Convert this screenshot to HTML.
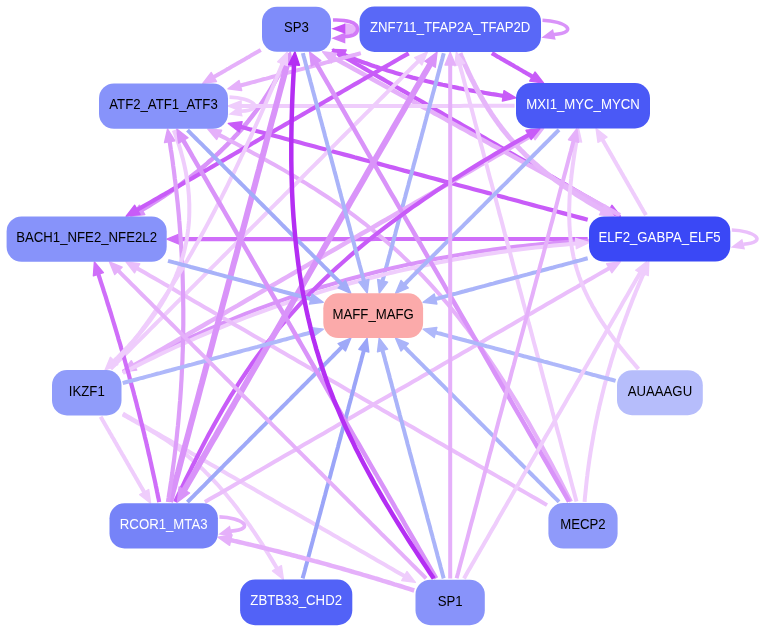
<!DOCTYPE html>
<html><head><meta charset="utf-8"><style>
html,body{margin:0;padding:0;background:#fff;width:761px;height:632px;overflow:hidden}
svg{display:block}
.lbl{will-change:transform}
text{font-family:"Liberation Sans",sans-serif;font-size:13.2px}
</style></head><body>
<svg width="761" height="632" viewBox="0 0 761 632">
<rect width="761" height="632" fill="#fff"/>
<g><path d="M343.3,54.5 L345.6,55.4 L347.8,56.4 L350.1,57.3 L352.4,58.2 L354.8,59.2 L357.1,60.1 L359.5,61.0 L362.0,61.9 L364.4,62.8 L366.9,63.6 L369.4,64.5 L371.9,65.4 L374.4,66.3 L377.0,67.1 L379.6,68.0 L382.2,68.8 L384.8,69.6 L387.5,70.5 L390.2,71.3 L392.9,72.1 L395.6,72.9 L398.4,73.7 L401.1,74.5 L403.9,75.3 L406.8,76.0 L409.6,76.8 L412.5,77.6 L415.4,78.3 L418.3,79.1 L421.3,79.8 L424.3,80.5 L427.3,81.3 L430.3,82.0 L433.4,82.7 L436.4,83.4 L439.5,84.1 L442.7,84.8 L445.8,85.4 L449.0,86.1 L452.2,86.8 L455.4,87.4 L458.6,88.1 L461.9,88.7 L465.2,89.4 L468.5,90.0 L471.9,90.6 L475.2,91.2 L478.6,91.8 L482.0,92.4 L485.5,93.0 L489.0,93.6 L492.4,94.2 L496.0,94.7 L499.5,95.3 L503.1,95.9 L504.2,96.0" fill="none" stroke="#c85cf8" stroke-width="4.2"/><path d="M515.9,97.8L502.4,101.1L504.0,90.7Z" fill="#c85cf8" stroke="#c85cf8" stroke-width="1.4" stroke-linejoin="round"/><path d="M332.3,49.5L346.2,50.0L341.9,59.6Z" fill="#c85cf8" stroke="#c85cf8" stroke-width="1.4" stroke-linejoin="round"/></g>
<g><path d="M332.4,50.0 L336.0,52.1 L339.6,54.2 L343.3,56.3 L346.9,58.4 L350.5,60.5 L354.2,62.6 L357.8,64.7 L361.4,66.8 L365.0,68.9 L368.7,71.0 L372.3,73.1 L375.9,75.2 L379.6,77.3 L383.2,79.4 L386.8,81.5 L390.5,83.6 L394.1,85.7 L397.7,87.8 L401.4,89.9 L405.0,91.9 L408.6,94.0 L412.3,96.1 L415.9,98.2 L419.5,100.3 L423.1,102.4 L426.8,104.5 L430.4,106.6 L434.0,108.7 L437.7,110.8 L441.3,112.9 L444.9,115.0 L448.6,117.1 L452.2,119.2 L455.8,121.3 L459.5,123.4 L463.1,125.5 L466.7,127.6 L470.4,129.7 L474.0,131.8 L477.6,133.9 L481.3,136.0 L484.9,138.1 L488.5,140.2 L492.1,142.3 L495.8,144.4 L499.4,146.5 L503.0,148.6 L506.7,150.7 L510.3,152.8 L513.9,154.9 L517.6,157.0 L521.2,159.1 L524.8,161.1 L528.5,163.2 L532.1,165.3 L535.7,167.4 L539.4,169.5 L543.0,171.6 L546.6,173.7 L550.3,175.8 L553.9,177.9 L557.5,180.0 L561.1,182.1 L564.8,184.2 L568.4,186.3 L572.0,188.4 L575.7,190.5 L579.3,192.6 L582.9,194.7 L586.6,196.8 L590.2,198.9 L593.8,201.0 L597.5,203.1 L601.1,205.2 L604.7,207.3 L608.4,209.4 L609.9,210.3" fill="none" stroke="#c85cf8" stroke-width="4.2"/><path d="M620.4,216.3L606.6,214.4L611.9,205.3Z" fill="#c85cf8" stroke="#c85cf8" stroke-width="1.4" stroke-linejoin="round"/></g>
<g><path d="M288.4,53.1 L287.4,55.6 L286.4,58.1 L285.3,60.5 L284.2,63.0 L283.1,65.4 L282.0,67.8 L280.8,70.3 L279.6,72.7 L278.4,75.1 L277.2,77.5 L275.9,79.9 L274.6,82.2 L273.3,84.6 L271.9,86.9 L270.5,89.3 L269.1,91.6 L267.7,93.9 L266.2,96.3 L264.7,98.6 L263.2,100.9 L261.6,103.2 L260.1,105.4 L258.5,107.7 L256.8,110.0 L255.2,112.2 L253.5,114.4 L251.8,116.7 L250.0,118.9 L248.3,121.1 L246.5,123.3 L244.7,125.5 L242.8,127.7 L240.9,129.9 L239.0,132.0 L237.1,134.2 L235.1,136.3 L233.1,138.5 L231.1,140.6 L229.1,142.7 L227.0,144.8 L224.9,146.9 L222.8,149.0 L220.6,151.1 L218.5,153.2 L216.3,155.2 L214.0,157.3 L211.8,159.3 L209.5,161.3 L207.2,163.4 L204.8,165.4 L202.4,167.4 L200.0,169.4 L197.6,171.4 L195.2,173.3 L192.7,175.3 L190.2,177.3 L187.6,179.2 L185.1,181.1 L182.5,183.1 L179.9,185.0 L177.2,186.9 L174.6,188.8 L171.9,190.7 L169.1,192.6 L166.4,194.5 L163.6,196.3 L160.8,198.2 L157.9,200.0 L155.1,201.8 L152.2,203.7 L149.3,205.5 L146.3,207.3 L143.3,209.1 L141.3,210.3" fill="none" stroke="#d993f9" stroke-width="4.5"/><path d="M130.8,216.4L139.4,205.2L144.8,214.5Z" fill="#d993f9" stroke="#d993f9" stroke-width="1.4" stroke-linejoin="round"/></g>
<g><path d="M260.8,49.9 L259.4,50.7 L258.1,51.5 L256.8,52.2 L255.4,53.0 L254.1,53.8 L252.8,54.5 L251.4,55.3 L250.1,56.1 L248.8,56.9 L247.5,57.6 L246.1,58.4 L244.8,59.2 L243.5,59.9 L242.1,60.7 L240.8,61.5 L239.5,62.2 L238.1,63.0 L236.8,63.8 L235.5,64.5 L234.2,65.3 L232.8,66.1 L231.5,66.8 L230.2,67.6 L228.8,68.4 L227.5,69.1 L226.2,69.9 L224.8,70.7 L223.5,71.4 L222.2,72.2 L220.9,73.0 L219.5,73.7 L218.2,74.5 L216.9,75.3 L215.5,76.1 L214.2,76.8 L213.0,77.5" fill="none" stroke="#e5b0fa" stroke-width="4"/><path d="M202.8,83.4L211.3,72.5L216.5,81.5Z" fill="#e5b0fa" stroke="#e5b0fa" stroke-width="1.4" stroke-linejoin="round"/></g>
<g><path d="M587.7,219.7 L582.7,218.4 L577.8,217.1 L572.8,215.7 L567.9,214.4 L562.9,213.1 L557.9,211.8 L553.0,210.4 L548.0,209.1 L543.1,207.8 L538.1,206.4 L533.1,205.1 L528.2,203.8 L523.2,202.5 L518.2,201.1 L513.3,199.8 L508.3,198.5 L503.4,197.1 L498.4,195.8 L493.4,194.5 L488.5,193.1 L483.5,191.8 L478.6,190.5 L473.6,189.2 L468.6,187.8 L463.7,186.5 L458.7,185.2 L453.7,183.8 L448.8,182.5 L443.8,181.2 L438.9,179.9 L433.9,178.5 L428.9,177.2 L424.0,175.9 L419.0,174.5 L414.1,173.2 L409.1,171.9 L404.1,170.6 L399.2,169.2 L394.2,167.9 L389.2,166.6 L384.3,165.2 L379.3,163.9 L374.4,162.6 L369.4,161.3 L364.4,159.9 L359.5,158.6 L354.5,157.3 L349.6,155.9 L344.6,154.6 L339.6,153.3 L334.7,152.0 L329.7,150.6 L324.7,149.3 L319.8,148.0 L314.8,146.6 L309.9,145.3 L304.9,144.0 L299.9,142.6 L295.0,141.3 L290.0,140.0 L285.1,138.7 L280.1,137.3 L275.1,136.0 L270.2,134.7 L265.2,133.3 L260.2,132.0 L255.3,130.7 L250.3,129.4 L245.4,128.0 L240.4,126.7 L240.1,126.6" fill="none" stroke="#c85cf8" stroke-width="4.2"/><path d="M228.3,123.5L242.1,121.7L239.4,131.9Z" fill="#c85cf8" stroke="#c85cf8" stroke-width="1.4" stroke-linejoin="round"/></g>
<g><path d="M587.7,239.0 L581.9,239.0 L576.2,239.0 L570.5,239.0 L564.7,239.0 L559.0,239.0 L553.3,239.0 L547.6,239.0 L541.8,239.0 L536.1,239.0 L530.4,239.0 L524.6,239.0 L518.9,239.0 L513.2,239.0 L507.4,239.0 L501.7,239.0 L496.0,239.0 L490.3,239.0 L484.5,239.0 L478.8,239.0 L473.1,239.0 L467.3,239.0 L461.6,239.0 L455.9,239.0 L450.1,239.0 L444.4,239.0 L438.7,239.0 L433.0,239.0 L427.2,239.0 L421.5,239.0 L415.8,239.0 L410.0,239.0 L404.3,239.0 L398.6,239.0 L392.8,239.0 L387.1,239.0 L381.4,239.0 L375.7,239.0 L369.9,239.1 L364.2,239.1 L358.5,239.1 L352.7,239.1 L347.0,239.1 L341.3,239.1 L335.5,239.1 L329.8,239.1 L324.1,239.1 L318.4,239.1 L312.6,239.1 L306.9,239.1 L301.2,239.1 L295.4,239.1 L289.7,239.1 L284.0,239.1 L278.2,239.1 L272.5,239.1 L266.8,239.1 L261.1,239.1 L255.3,239.1 L249.6,239.1 L243.9,239.1 L238.1,239.1 L232.4,239.1 L226.7,239.1 L220.9,239.1 L215.2,239.1 L209.5,239.1 L203.8,239.1 L198.0,239.1 L192.3,239.1 L186.6,239.1 L180.8,239.1 L179.0,239.1" fill="none" stroke="#cf6ef9" stroke-width="4.2"/><path d="M166.9,239.1L179.8,233.8L179.8,244.4Z" fill="#cf6ef9" stroke="#cf6ef9" stroke-width="1.4" stroke-linejoin="round"/></g>
<g><path d="M619.9,215.2 L616.3,213.2 L612.7,211.2 L609.0,209.2 L605.4,207.2 L601.8,205.2 L598.1,203.2 L594.5,201.2 L590.9,199.2 L587.2,197.2 L583.6,195.2 L580.0,193.2 L576.4,191.2 L572.7,189.2 L569.1,187.2 L565.5,185.3 L561.8,183.3 L558.2,181.3 L554.6,179.3 L550.9,177.3 L547.3,175.3 L543.7,173.3 L540.0,171.3 L536.4,169.3 L532.8,167.3 L529.1,165.3 L525.5,163.3 L521.9,161.3 L518.2,159.3 L514.6,157.3 L511.0,155.3 L507.4,153.3 L503.7,151.3 L500.1,149.3 L496.5,147.3 L492.8,145.4 L489.2,143.4 L485.6,141.4 L481.9,139.4 L478.3,137.4 L474.7,135.4 L471.0,133.4 L467.4,131.4 L463.8,129.4 L460.1,127.4 L456.5,125.4 L452.9,123.4 L449.2,121.4 L445.6,119.4 L442.0,117.4 L438.4,115.4 L434.7,113.4 L431.1,111.4 L427.5,109.4 L423.8,107.4 L420.2,105.5 L416.6,103.5 L412.9,101.5 L409.3,99.5 L405.7,97.5 L402.0,95.5 L398.4,93.5 L394.8,91.5 L391.1,89.5 L387.5,87.5 L383.9,85.5 L380.3,83.5 L376.6,81.5 L373.0,79.5 L369.4,77.5 L365.7,75.5 L362.1,73.5 L358.5,71.5 L354.8,69.5 L351.2,67.5 L347.6,65.6 L343.9,63.6 L340.3,61.6 L336.7,59.6 L333.3,57.7" fill="none" stroke="#e5b0fa" stroke-width="4.5"/><path d="M322.6,51.8L336.6,53.4L331.4,62.9Z" fill="#e5b0fa" stroke="#e5b0fa" stroke-width="1.4" stroke-linejoin="round"/></g>
<g><path d="M645.9,215.2 L645.2,213.8 L644.4,212.5 L643.6,211.2 L642.9,209.9 L642.1,208.5 L641.3,207.2 L640.6,205.9 L639.8,204.5 L639.1,203.2 L638.3,201.9 L637.5,200.5 L636.8,199.2 L636.0,197.9 L635.2,196.5 L634.5,195.2 L633.7,193.9 L632.9,192.5 L632.2,191.2 L631.4,189.9 L630.6,188.5 L629.9,187.2 L629.1,185.9 L628.3,184.5 L627.6,183.2 L626.8,181.9 L626.0,180.5 L625.3,179.2 L624.5,177.9 L623.7,176.5 L623.0,175.2 L622.2,173.9 L621.4,172.5 L620.7,171.2 L619.9,169.9 L619.1,168.5 L618.4,167.2 L617.6,165.9 L616.8,164.5 L616.1,163.2 L615.3,161.9 L614.5,160.5 L613.8,159.2 L613.0,157.9 L612.2,156.6 L611.5,155.2 L610.7,153.9 L609.9,152.6 L609.2,151.2 L608.4,149.9 L607.6,148.6 L606.9,147.2 L606.1,145.9 L605.3,144.6 L604.6,143.2 L603.8,141.9 L603.0,140.6 L602.3,139.2 L602.0,138.8" fill="none" stroke="#efcdfc" stroke-width="4"/><path d="M596.1,128.6L607.0,137.1L598.0,142.3Z" fill="#efcdfc" stroke="#efcdfc" stroke-width="1.4" stroke-linejoin="round"/></g>
<g><path d="M571.0,501.6 L567.0,493.8 L563.1,486.1 L559.2,478.5 L555.3,471.1 L551.4,463.8 L547.6,456.6 L543.8,449.6 L540.0,442.7 L536.2,435.9 L532.4,429.2 L528.7,422.6 L524.9,416.2 L521.2,409.9 L517.5,403.6 L513.8,397.5 L510.1,391.5 L506.4,385.6 L502.7,379.9 L499.0,374.2 L495.4,368.6 L491.7,363.1 L488.1,357.7 L484.4,352.4 L480.8,347.3 L477.2,342.2 L473.5,337.1 L469.9,332.2 L466.3,327.4 L462.6,322.7 L459.0,318.0 L455.4,313.4 L451.7,308.9 L448.1,304.5 L444.4,300.2 L440.8,295.9 L437.1,291.7 L433.4,287.6 L429.8,283.6 L426.1,279.6 L422.4,275.7 L418.6,271.8 L414.9,268.1 L411.2,264.3 L407.4,260.7 L403.6,257.1 L399.9,253.5 L396.1,250.0 L392.2,246.6 L388.4,243.2 L384.5,239.9 L380.6,236.6 L376.7,233.3 L372.8,230.1 L368.8,227.0 L364.9,223.8 L360.9,220.8 L356.8,217.7 L352.8,214.7 L348.7,211.7 L344.6,208.8 L340.4,205.9 L336.3,203.0 L332.1,200.1 L327.8,197.3 L323.5,194.5 L319.2,191.7 L314.9,188.9 L310.5,186.2 L306.1,183.4 L301.6,180.7 L297.1,178.0 L292.6,175.3 L288.0,172.6 L283.4,169.9 L278.8,167.3 L274.0,164.6 L269.3,161.9 L264.5,159.2 L259.7,156.6 L254.8,153.9 L249.8,151.2 L244.8,148.5 L239.8,145.8 L234.7,143.1 L229.6,140.4 L224.4,137.6 L219.1,134.9 L218.5,134.5" fill="none" stroke="#e5b0fa" stroke-width="4"/><path d="M207.8,129.0L221.6,130.3L216.7,139.5Z" fill="#e5b0fa" stroke="#e5b0fa" stroke-width="1.4" stroke-linejoin="round"/></g>
<g><path d="M514.6,105.8 L510.4,105.8 L506.2,105.8 L502.0,105.8 L497.8,105.8 L493.6,105.8 L489.4,105.8 L485.2,105.8 L481.0,105.8 L476.8,105.8 L472.6,105.8 L468.4,105.8 L464.2,105.8 L460.0,105.9 L455.8,105.9 L451.6,105.9 L447.4,105.9 L443.3,105.9 L439.1,105.9 L434.9,105.9 L430.7,105.9 L426.5,105.9 L422.3,105.9 L418.1,105.9 L413.9,105.9 L409.7,105.9 L405.5,105.9 L401.3,105.9 L397.1,105.9 L392.9,105.9 L388.7,105.9 L384.5,105.9 L380.3,105.9 L376.1,105.9 L371.9,105.9 L367.7,105.9 L363.5,105.9 L359.4,105.9 L355.2,105.9 L351.0,105.9 L346.8,105.9 L342.6,106.0 L338.4,106.0 L334.2,106.0 L330.0,106.0 L325.8,106.0 L321.6,106.0 L317.4,106.0 L313.2,106.0 L309.0,106.0 L304.8,106.0 L300.6,106.0 L296.4,106.0 L292.2,106.0 L288.0,106.0 L283.8,106.0 L279.6,106.0 L275.5,106.0 L271.3,106.0 L267.1,106.0 L262.9,106.0 L258.7,106.0 L254.5,106.0 L250.3,106.0 L246.1,106.0 L241.9,106.0 L240.3,106.0" fill="none" stroke="#efcdfc" stroke-width="4"/><path d="M228.3,106.0L241.1,100.8L241.1,111.2Z" fill="#efcdfc" stroke="#efcdfc" stroke-width="1.4" stroke-linejoin="round"/></g>
<g><path d="M443.8,53.2 L443.0,56.1 L442.3,59.0 L441.5,61.8 L440.7,64.7 L439.9,67.6 L439.2,70.4 L438.4,73.3 L437.6,76.2 L436.9,79.0 L436.1,81.9 L435.3,84.7 L434.6,87.6 L433.8,90.5 L433.0,93.3 L432.2,96.2 L431.5,99.1 L430.7,101.9 L429.9,104.8 L429.2,107.7 L428.4,110.5 L427.6,113.4 L426.8,116.3 L426.1,119.1 L425.3,122.0 L424.5,124.9 L423.8,127.7 L423.0,130.6 L422.2,133.4 L421.5,136.3 L420.7,139.2 L419.9,142.0 L419.1,144.9 L418.4,147.8 L417.6,150.6 L416.8,153.5 L416.1,156.4 L415.3,159.2 L414.5,162.1 L413.7,165.0 L413.0,167.8 L412.2,170.7 L411.4,173.5 L410.7,176.4 L409.9,179.3 L409.1,182.1 L408.4,185.0 L407.6,187.9 L406.8,190.7 L406.0,193.6 L405.3,196.5 L404.5,199.3 L403.7,202.2 L403.0,205.1 L402.2,207.9 L401.4,210.8 L400.6,213.7 L399.9,216.5 L399.1,219.4 L398.3,222.2 L397.6,225.1 L396.8,228.0 L396.0,230.8 L395.3,233.7 L394.5,236.6 L393.7,239.4 L392.9,242.3 L392.2,245.2 L391.4,248.0 L390.6,250.9 L389.9,253.8 L389.1,256.6 L388.3,259.5 L387.6,262.3 L386.8,265.2 L386.0,268.1 L385.2,270.9 L384.5,273.8 L383.7,276.7 L382.9,279.5 L382.3,281.7" fill="none" stroke="#aab4f9" stroke-width="4"/><path d="M379.3,293.1L377.6,279.4L387.6,282.1Z" fill="#aab4f9" stroke="#aab4f9" stroke-width="1.4" stroke-linejoin="round"/></g>
<g><path d="M122.9,371.8 L128.1,368.9 L133.4,366.1 L138.6,363.3 L143.9,360.5 L149.1,357.7 L154.4,355.0 L159.7,352.4 L165.0,349.7 L170.3,347.1 L175.6,344.5 L181.0,341.9 L186.3,339.4 L191.7,336.9 L197.0,334.5 L202.4,332.0 L207.8,329.6 L213.2,327.3 L218.7,324.9 L224.1,322.6 L229.5,320.3 L235.0,318.1 L240.5,315.9 L245.9,313.7 L251.4,311.6 L256.9,309.4 L262.5,307.4 L268.0,305.3 L273.5,303.3 L279.1,301.3 L284.6,299.3 L290.2,297.4 L295.8,295.5 L301.4,293.6 L307.0,291.8 L312.7,290.0 L318.3,288.2 L323.9,286.5 L329.6,284.8 L335.3,283.1 L341.0,281.4 L346.7,279.8 L352.4,278.2 L358.1,276.7 L363.8,275.2 L369.6,273.7 L375.3,272.2 L381.1,270.8 L386.9,269.4 L392.7,268.0 L398.5,266.7 L404.3,265.4 L410.2,264.1 L416.0,262.9 L421.8,261.7 L427.7,260.5 L433.6,259.3 L439.5,258.2 L445.4,257.2 L451.3,256.1 L457.2,255.1 L463.2,254.1 L469.1,253.1 L475.1,252.2 L481.1,251.3 L487.1,250.4 L493.1,249.6 L499.1,248.8 L505.1,248.0 L511.1,247.3 L517.2,246.6 L523.2,245.9 L529.3,245.3 L535.4,244.7 L541.5,244.1 L547.6,243.5 L553.7,243.0 L559.9,242.5 L566.0,242.1 L572.2,241.7 L578.3,241.3 L584.5,240.9 L588.8,240.7" fill="none" stroke="#d993f9" stroke-width="4"/></g>
<g><path d="M133.3,365.8 L138.2,363.0 L143.2,360.1 L148.2,357.2 L153.1,354.4 L158.1,351.5 L163.0,348.6 L168.0,345.8 L173.0,342.9 L177.9,340.0 L182.9,337.1 L187.9,334.3 L192.8,331.4 L197.8,328.5 L202.7,325.7 L207.7,322.8 L212.7,319.9 L217.6,317.1 L222.6,314.2 L227.6,311.3 L232.5,308.4 L237.5,305.6 L242.4,302.7 L247.4,299.8 L252.4,297.0 L257.3,294.1 L262.3,291.2 L267.3,288.4 L272.2,285.5 L277.2,282.6 L282.1,279.7 L287.1,276.9 L292.1,274.0 L297.0,271.1 L302.0,268.3 L307.0,265.4 L311.9,262.5 L316.9,259.7 L321.8,256.8 L326.8,253.9 L331.8,251.0 L336.7,248.2 L341.7,245.3 L346.7,242.4 L351.6,239.6 L356.6,236.7 L361.5,233.8 L366.5,231.0 L371.5,228.1 L376.4,225.2 L381.4,222.3 L386.4,219.5 L391.3,216.6 L396.3,213.7 L401.2,210.9 L406.2,208.0 L411.2,205.1 L416.1,202.3 L421.1,199.4 L426.1,196.5 L431.0,193.6 L436.0,190.8 L440.9,187.9 L445.9,185.0 L450.9,182.2 L455.8,179.3 L460.8,176.4 L465.8,173.6 L470.7,170.7 L475.7,167.8 L480.6,164.9 L485.6,162.1 L490.6,159.2 L495.5,156.3 L500.5,153.5 L505.5,150.6 L510.4,147.7 L515.4,144.9 L520.3,142.0 L525.3,139.1 L530.3,136.2 L533.1,134.6" fill="none" stroke="#e5b0fa" stroke-width="4.5"/><path d="M543.6,128.5L535.0,139.7L529.6,130.4Z" fill="#e5b0fa" stroke="#e5b0fa" stroke-width="1.4" stroke-linejoin="round"/><path d="M122.7,371.9L131.3,360.7L136.7,370.1Z" fill="#e5b0fa" stroke="#e5b0fa" stroke-width="1.4" stroke-linejoin="round"/></g>
<g><path d="M122.9,373.0 L128.1,370.2 L133.4,367.5 L138.6,364.9 L143.9,362.3 L149.1,359.6 L154.4,357.1 L159.7,354.5 L165.0,352.0 L170.3,349.5 L175.6,347.0 L181.0,344.6 L186.3,342.2 L191.7,339.8 L197.0,337.4 L202.4,335.1 L207.8,332.8 L213.2,330.5 L218.7,328.3 L224.1,326.1 L229.5,323.9 L235.0,321.7 L240.5,319.6 L245.9,317.5 L251.4,315.4 L256.9,313.4 L262.5,311.3 L268.0,309.3 L273.5,307.4 L279.1,305.4 L284.6,303.5 L290.2,301.6 L295.8,299.8 L301.4,297.9 L307.0,296.1 L312.7,294.4 L318.3,292.6 L323.9,290.9 L329.6,289.2 L335.3,287.6 L341.0,285.9 L346.7,284.3 L352.4,282.7 L358.1,281.2 L363.8,279.7 L369.6,278.2 L375.3,276.7 L381.1,275.3 L386.9,273.8 L392.7,272.5 L398.5,271.1 L404.3,269.8 L410.2,268.5 L416.0,267.2 L421.8,266.0 L427.7,264.7 L433.6,263.5 L439.5,262.4 L445.4,261.2 L451.3,260.1 L457.2,259.1 L463.2,258.0 L469.1,257.0 L475.1,256.0 L481.1,255.0 L487.1,254.1 L493.1,253.2 L499.1,252.3 L505.1,251.4 L511.1,250.6 L517.2,249.8 L523.2,249.0 L529.3,248.3 L535.4,247.6 L541.5,246.9 L547.6,246.2 L553.7,245.6 L559.9,245.0 L566.0,244.4 L572.2,243.8 L576.8,243.4" fill="none" stroke="#efcdfc" stroke-width="4"/><path d="M588.8,242.5L576.4,248.7L575.6,238.3Z" fill="#efcdfc" stroke="#efcdfc" stroke-width="1.4" stroke-linejoin="round"/></g>
<g><path d="M110.8,368.7 L114.5,365.0 L118.1,361.4 L121.7,357.8 L125.4,354.1 L129.0,350.5 L132.6,346.9 L136.3,343.2 L139.9,339.6 L143.5,336.0 L147.2,332.3 L150.8,328.7 L154.5,325.0 L158.1,321.4 L161.7,317.8 L165.4,314.1 L169.0,310.5 L172.6,306.9 L176.3,303.2 L179.9,299.6 L183.5,296.0 L187.2,292.3 L190.8,288.7 L194.4,285.1 L198.1,281.4 L201.7,277.8 L205.3,274.2 L209.0,270.5 L212.6,266.9 L216.2,263.3 L219.9,259.6 L223.5,256.0 L227.2,252.3 L230.8,248.7 L234.4,245.1 L238.1,241.4 L241.7,237.8 L245.3,234.2 L249.0,230.5 L252.6,226.9 L256.2,223.3 L259.9,219.6 L263.5,216.0 L267.1,212.4 L270.8,208.7 L274.4,205.1 L278.0,201.5 L281.7,197.8 L285.3,194.2 L288.9,190.6 L292.6,186.9 L296.2,183.3 L299.9,179.6 L303.5,176.0 L307.1,172.4 L310.8,168.7 L314.4,165.1 L318.0,161.5 L321.7,157.8 L325.3,154.2 L328.9,150.6 L332.6,146.9 L336.2,143.3 L339.8,139.7 L343.5,136.0 L347.1,132.4 L350.7,128.8 L354.4,125.1 L358.0,121.5 L361.6,117.9 L365.3,114.2 L368.9,110.6 L372.6,106.9 L376.2,103.3 L379.8,99.7 L383.5,96.0 L387.1,92.4 L390.7,88.8 L394.4,85.1 L398.0,81.5 L401.6,77.9 L405.3,74.2 L408.9,70.6 L412.5,67.0 L416.2,63.3 L418.9,60.6" fill="none" stroke="#efcdfc" stroke-width="4"/><path d="M427.3,52.2L421.9,64.9L414.6,57.6Z" fill="#efcdfc" stroke="#efcdfc" stroke-width="1.4" stroke-linejoin="round"/></g>
<g><path d="M100.6,416.7 L101.4,418.0 L102.1,419.4 L102.9,420.7 L103.7,422.0 L104.4,423.4 L105.2,424.7 L106.0,426.0 L106.8,427.4 L107.5,428.7 L108.3,430.0 L109.1,431.3 L109.8,432.7 L110.6,434.0 L111.4,435.3 L112.1,436.7 L112.9,438.0 L113.7,439.3 L114.5,440.7 L115.2,442.0 L116.0,443.3 L116.8,444.7 L117.5,446.0 L118.3,447.3 L119.1,448.7 L119.8,450.0 L120.6,451.3 L121.4,452.6 L122.1,454.0 L122.9,455.3 L123.7,456.6 L124.5,458.0 L125.2,459.3 L126.0,460.6 L126.8,462.0 L127.5,463.3 L128.3,464.6 L129.1,466.0 L129.8,467.3 L130.6,468.6 L131.4,469.9 L132.2,471.3 L132.9,472.6 L133.7,473.9 L134.5,475.3 L135.2,476.6 L136.0,477.9 L136.8,479.3 L137.5,480.6 L138.3,481.9 L139.1,483.3 L139.8,484.6 L140.6,485.9 L141.4,487.3 L142.2,488.6 L142.9,489.9 L143.7,491.2 L144.5,492.6 L144.7,493.0" fill="none" stroke="#efcdfc" stroke-width="4"/><path d="M150.6,503.2L139.7,494.7L148.7,489.5Z" fill="#efcdfc" stroke="#efcdfc" stroke-width="1.4" stroke-linejoin="round"/></g>
<g><path d="M122.8,414.6 L124.8,415.7 L126.8,416.8 L128.8,418.0 L130.8,419.1 L132.7,420.2 L134.7,421.3 L136.7,422.4 L138.6,423.5 L140.5,424.6 L142.5,425.7 L144.4,426.8 L146.3,427.9 L148.3,429.1 L150.2,430.2 L152.1,431.3 L154.0,432.5 L155.9,433.6 L157.8,434.8 L159.7,436.0 L161.6,437.2 L163.5,438.4 L165.4,439.7 L167.3,440.9 L169.2,442.2 L171.1,443.5 L173.0,444.9 L174.9,446.2 L176.8,447.6 L178.7,449.0 L180.6,450.4 L182.5,451.9 L184.4,453.4 L186.4,454.9 L188.3,456.5 L190.2,458.1 L192.1,459.7 L194.1,461.4 L196.0,463.1 L198.0,464.9 L199.9,466.7 L201.9,468.5 L203.9,470.4 L205.8,472.4 L207.8,474.3 L209.8,476.4 L211.8,478.5 L213.8,480.6 L215.9,482.8 L217.9,485.0 L219.9,487.3 L222.0,489.7 L224.1,492.1 L226.2,494.5 L228.2,497.1 L230.4,499.7 L232.5,502.3 L234.6,505.0 L236.8,507.8 L238.9,510.7 L241.1,513.6 L243.3,516.6 L245.5,519.6 L247.7,522.8 L250.0,526.0 L252.2,529.3 L254.5,532.6 L256.8,536.1 L259.1,539.6 L261.5,543.2 L263.8,546.8 L266.2,550.6 L268.6,554.5 L271.0,558.4 L273.4,562.4 L275.9,566.5 L277.4,569.1" fill="none" stroke="#efcdfc" stroke-width="4"/><path d="M283.4,579.4L272.5,570.9L281.4,565.7Z" fill="#efcdfc" stroke="#efcdfc" stroke-width="1.4" stroke-linejoin="round"/></g>
<g><path d="M122.9,413.6 L126.5,415.7 L130.1,417.8 L133.8,419.9 L137.4,422.0 L141.0,424.1 L144.7,426.2 L148.3,428.3 L151.9,430.4 L155.6,432.5 L159.2,434.6 L162.8,436.7 L166.5,438.8 L170.1,440.8 L173.7,442.9 L177.4,445.0 L181.0,447.1 L184.6,449.2 L188.3,451.3 L191.9,453.4 L195.5,455.5 L199.2,457.6 L202.8,459.7 L206.4,461.8 L210.1,463.9 L213.7,466.0 L217.3,468.1 L221.0,470.2 L224.6,472.3 L228.2,474.4 L231.9,476.5 L235.5,478.6 L239.2,480.7 L242.8,482.8 L246.4,484.9 L250.1,487.0 L253.7,489.1 L257.3,491.2 L261.0,493.3 L264.6,495.4 L268.2,497.5 L271.9,499.6 L275.5,501.7 L279.1,503.8 L282.8,505.9 L286.4,508.0 L290.0,510.1 L293.7,512.1 L297.3,514.2 L300.9,516.3 L304.6,518.4 L308.2,520.5 L311.8,522.6 L315.5,524.7 L319.1,526.8 L322.7,528.9 L326.4,531.0 L330.0,533.1 L333.6,535.2 L337.3,537.3 L340.9,539.4 L344.5,541.5 L348.2,543.6 L351.8,545.7 L355.4,547.8 L359.1,549.9 L362.7,552.0 L366.3,554.1 L370.0,556.2 L373.6,558.3 L377.2,560.4 L380.9,562.5 L384.5,564.6 L388.1,566.7 L391.8,568.8 L395.4,570.9 L399.0,573.0 L402.7,575.1 L405.2,576.5" fill="none" stroke="#efcdfc" stroke-width="4"/><path d="M415.4,582.4L401.7,580.5L406.9,571.5Z" fill="#efcdfc" stroke="#efcdfc" stroke-width="1.4" stroke-linejoin="round"/></g>
<g><path d="M491.8,53.2 L493.1,54.0 L494.5,54.7 L495.8,55.5 L497.1,56.3 L498.5,57.0 L499.8,57.8 L501.1,58.6 L502.4,59.3 L503.8,60.1 L505.1,60.9 L506.4,61.6 L507.7,62.4 L509.1,63.1 L510.4,63.9 L511.7,64.7 L513.1,65.4 L514.4,66.2 L515.7,67.0 L517.0,67.7 L518.4,68.5 L519.7,69.3 L521.0,70.0 L522.3,70.8 L523.7,71.6 L525.0,72.3 L526.3,73.1 L527.7,73.9 L529.0,74.6 L530.3,75.4 L531.6,76.2 L533.0,76.9 L533.1,77.0" fill="none" stroke="#c85cf8" stroke-width="4.2"/><path d="M543.5,83.0L529.7,81.1L535.0,72.0Z" fill="#c85cf8" stroke="#c85cf8" stroke-width="1.4" stroke-linejoin="round"/></g>
<g><path d="M408.7,53.3 L405.0,55.4 L401.4,57.4 L397.8,59.5 L394.1,61.6 L390.5,63.7 L386.8,65.8 L383.2,67.9 L379.6,70.0 L375.9,72.1 L372.3,74.2 L368.7,76.3 L365.0,78.4 L361.4,80.5 L357.8,82.6 L354.1,84.7 L350.5,86.8 L346.9,88.9 L343.2,91.0 L339.6,93.1 L335.9,95.2 L332.3,97.3 L328.7,99.4 L325.0,101.5 L321.4,103.6 L317.8,105.7 L314.1,107.8 L310.5,109.9 L306.9,112.0 L303.2,114.1 L299.6,116.2 L295.9,118.3 L292.3,120.4 L288.7,122.5 L285.0,124.6 L281.4,126.7 L277.8,128.8 L274.1,130.9 L270.5,133.0 L266.9,135.1 L263.2,137.2 L259.6,139.3 L256.0,141.4 L252.3,143.5 L248.7,145.6 L245.0,147.7 L241.4,149.8 L237.8,151.9 L234.1,154.0 L230.5,156.1 L226.9,158.2 L223.2,160.3 L219.6,162.4 L216.0,164.5 L212.3,166.6 L208.7,168.7 L205.0,170.8 L201.4,172.9 L197.8,175.0 L194.1,177.1 L190.5,179.2 L186.9,181.3 L183.2,183.4 L179.6,185.5 L176.0,187.6 L172.3,189.7 L168.7,191.8 L165.1,193.9 L161.4,195.9 L157.8,198.0 L154.1,200.1 L150.5,202.2 L146.9,204.3 L143.2,206.4 L139.6,208.5 L136.6,210.2" fill="none" stroke="#c85cf8" stroke-width="4.2"/><path d="M126.2,216.3L134.7,205.3L140.0,214.4Z" fill="#c85cf8" stroke="#c85cf8" stroke-width="1.4" stroke-linejoin="round"/></g>
<g><path d="M460.0,53.3 L461.1,56.0 L462.3,58.6 L463.4,61.3 L464.6,63.9 L465.8,66.5 L467.0,69.0 L468.1,71.6 L469.3,74.1 L470.5,76.6 L471.7,79.1 L473.0,81.5 L474.2,83.9 L475.4,86.3 L476.7,88.7 L478.0,91.1 L479.2,93.4 L480.5,95.7 L481.8,98.0 L483.1,100.3 L484.5,102.6 L485.8,104.8 L487.2,107.0 L488.6,109.3 L490.0,111.4 L491.4,113.6 L492.9,115.8 L494.3,117.9 L495.8,120.0 L497.3,122.1 L498.8,124.2 L500.4,126.3 L501.9,128.4 L503.5,130.4 L505.1,132.4 L506.8,134.4 L508.4,136.5 L510.1,138.4 L511.9,140.4 L513.6,142.4 L515.4,144.4 L517.2,146.3 L519.0,148.2 L520.9,150.2 L522.8,152.1 L524.7,154.0 L526.6,155.9 L528.6,157.8 L530.6,159.6 L532.7,161.5 L534.8,163.4 L536.9,165.2 L539.1,167.1 L541.3,168.9 L543.5,170.8 L545.8,172.6 L548.1,174.4 L550.4,176.2 L552.8,178.1 L555.2,179.9 L557.7,181.7 L560.2,183.5 L562.7,185.3 L565.3,187.1 L568.0,188.9 L570.6,190.7 L573.4,192.5 L576.1,194.3 L578.9,196.1 L581.8,197.9 L584.7,199.7 L587.6,201.5 L590.6,203.2 L593.7,205.0 L596.8,206.8 L599.9,208.6 L602.9,210.3" fill="none" stroke="#e6b6fa" stroke-width="5"/><path d="M613.9,216.3L599.5,214.8L604.9,205.0Z" fill="#e6b6fa" stroke="#e6b6fa" stroke-width="1.4" stroke-linejoin="round"/></g>
<g><path d="M360.8,53.2 L358.0,54.0 L355.1,54.8 L352.2,55.5 L349.3,56.3 L346.5,57.1 L343.6,57.8 L340.7,58.6 L337.9,59.4 L335.0,60.1 L332.1,60.9 L329.3,61.7 L326.4,62.4 L323.5,63.2 L320.7,64.0 L317.8,64.7 L314.9,65.5 L312.1,66.3 L309.2,67.1 L306.3,67.8 L303.5,68.6 L300.6,69.4 L297.7,70.1 L294.9,70.9 L292.0,71.7 L289.1,72.4 L286.3,73.2 L283.4,74.0 L280.5,74.7 L277.7,75.5 L274.8,76.3 L271.9,77.0 L269.1,77.8 L266.2,78.6 L263.3,79.3 L260.5,80.1 L257.6,80.9 L254.7,81.7 L251.9,82.4 L249.0,83.2 L246.1,84.0 L243.3,84.7 L240.4,85.5 L239.5,85.7" fill="none" stroke="#e5b0fa" stroke-width="4"/><path d="M228.0,88.8L239.0,80.5L241.7,90.5Z" fill="#e5b0fa" stroke="#e5b0fa" stroke-width="1.4" stroke-linejoin="round"/></g>
<g><path d="M569.0,501.6 L566.2,496.7 L563.3,491.7 L560.4,486.7 L557.6,481.8 L554.7,476.8 L551.8,471.9 L549.0,466.9 L546.1,461.9 L543.2,457.0 L540.4,452.0 L537.5,447.0 L534.7,442.1 L531.8,437.1 L528.9,432.1 L526.1,427.2 L523.2,422.2 L520.3,417.2 L517.5,412.3 L514.6,407.3 L511.7,402.3 L508.9,397.4 L506.0,392.4 L503.1,387.4 L500.3,382.5 L497.4,377.5 L494.5,372.5 L491.7,367.6 L488.8,362.6 L485.9,357.6 L483.1,352.7 L480.2,347.7 L477.4,342.7 L474.5,337.8 L471.6,332.8 L468.8,327.9 L465.9,322.9 L463.0,317.9 L460.2,313.0 L457.3,308.0 L454.4,303.0 L451.6,298.1 L448.7,293.1 L445.8,288.1 L443.0,283.2 L440.1,278.2 L437.2,273.2 L434.4,268.3 L431.5,263.3 L428.6,258.3 L425.8,253.4 L422.9,248.4 L420.1,243.4 L417.2,238.5 L414.3,233.5 L411.5,228.5 L408.6,223.6 L405.7,218.6 L402.9,213.6 L400.0,208.7 L397.1,203.7 L394.3,198.7 L391.4,193.8 L388.5,188.8 L385.7,183.9 L382.8,178.9 L379.9,173.9 L377.1,169.0 L374.2,164.0 L371.3,159.0 L368.5,154.1 L365.6,149.1 L362.8,144.1 L359.9,139.2 L357.0,134.2 L354.2,129.2 L351.3,124.3 L348.4,119.3 L345.6,114.3 L342.7,109.4 L339.8,104.4 L337.0,99.4 L334.1,94.5 L331.2,89.5 L328.4,84.5 L325.5,79.6 L322.6,74.6 L319.8,69.6 L316.9,64.7 L315.7,62.5" fill="none" stroke="#d993f9" stroke-width="4.5"/><path d="M309.6,52.0L320.8,60.6L311.4,66.0Z" fill="#d993f9" stroke="#d993f9" stroke-width="1.4" stroke-linejoin="round"/></g>
<g><path d="M547.0,505.1 L542.1,502.2 L537.1,499.3 L532.1,496.5 L527.2,493.6 L522.2,490.7 L517.2,487.9 L512.3,485.0 L507.3,482.1 L502.3,479.3 L497.4,476.4 L492.4,473.5 L487.5,470.7 L482.5,467.8 L477.5,464.9 L472.6,462.0 L467.6,459.2 L462.6,456.3 L457.7,453.4 L452.7,450.6 L447.7,447.7 L442.8,444.8 L437.8,442.0 L432.9,439.1 L427.9,436.2 L422.9,433.4 L418.0,430.5 L413.0,427.6 L408.0,424.8 L403.1,421.9 L398.1,419.0 L393.1,416.2 L388.2,413.3 L383.2,410.4 L378.3,407.6 L373.3,404.7 L368.3,401.8 L363.4,399.0 L358.4,396.1 L353.4,393.2 L348.5,390.4 L343.5,387.5 L338.5,384.6 L333.6,381.8 L328.6,378.9 L323.7,376.0 L318.7,373.2 L313.7,370.3 L308.8,367.4 L303.8,364.6 L298.8,361.7 L293.9,358.8 L288.9,356.0 L283.9,353.1 L279.0,350.2 L274.0,347.3 L269.1,344.5 L264.1,341.6 L259.1,338.7 L254.2,335.9 L249.2,333.0 L244.2,330.1 L239.3,327.3 L234.3,324.4 L229.4,321.5 L224.4,318.7 L219.4,315.8 L214.5,312.9 L209.5,310.1 L204.5,307.2 L199.6,304.3 L194.6,301.5 L189.6,298.6 L184.7,295.7 L179.7,292.9 L174.8,290.0 L169.8,287.1 L164.8,284.3 L159.9,281.4 L154.9,278.5 L149.9,275.7 L145.0,272.8 L140.0,269.9 L136.3,267.8" fill="none" stroke="#eabefb" stroke-width="4"/><path d="M126.0,261.9L139.7,263.8L134.5,272.8Z" fill="#eabefb" stroke="#eabefb" stroke-width="1.4" stroke-linejoin="round"/></g>
<g><path d="M584.6,501.8 L584.8,498.9 L585.1,496.0 L585.4,493.1 L585.7,490.2 L586.0,487.3 L586.3,484.4 L586.6,481.5 L586.9,478.6 L587.3,475.7 L587.6,472.8 L588.0,469.9 L588.4,467.0 L588.8,464.1 L589.2,461.2 L589.6,458.3 L590.1,455.4 L590.5,452.5 L591.0,449.6 L591.5,446.7 L592.0,443.8 L592.5,440.9 L593.0,438.1 L593.5,435.2 L594.0,432.3 L594.6,429.4 L595.1,426.5 L595.7,423.6 L596.3,420.7 L596.9,417.9 L597.5,415.0 L598.1,412.1 L598.8,409.2 L599.4,406.3 L600.1,403.5 L600.8,400.6 L601.5,397.7 L602.2,394.8 L602.9,392.0 L603.6,389.1 L604.3,386.2 L605.1,383.4 L605.9,380.5 L606.6,377.6 L607.4,374.8 L608.2,371.9 L609.0,369.0 L609.9,366.2 L610.7,363.3 L611.5,360.4 L612.4,357.6 L613.3,354.7 L614.2,351.9 L615.1,349.0 L616.0,346.1 L616.9,343.3 L617.9,340.4 L618.8,337.6 L619.8,334.7 L620.7,331.9 L621.7,329.0 L622.7,326.2 L623.8,323.3 L624.8,320.5 L625.8,317.6 L626.9,314.8 L627.9,311.9 L629.0,309.1 L630.1,306.2 L631.2,303.4 L632.3,300.6 L633.4,297.7 L634.6,294.9 L635.7,292.0 L636.9,289.2 L638.1,286.4 L639.3,283.5 L640.5,280.7 L641.7,277.9 L642.9,275.0 L644.0,272.6" fill="none" stroke="#efcdfc" stroke-width="4"/><path d="M648.8,261.8L648.3,275.6L638.9,271.3Z" fill="#efcdfc" stroke="#efcdfc" stroke-width="1.4" stroke-linejoin="round"/></g>
<g><path d="M576.5,501.6 L575.2,496.7 L573.9,491.7 L572.5,486.7 L571.2,481.8 L569.9,476.8 L568.6,471.8 L567.2,466.9 L565.9,461.9 L564.6,456.9 L563.3,452.0 L561.9,447.0 L560.6,442.0 L559.3,437.1 L557.9,432.1 L556.6,427.2 L555.3,422.2 L554.0,417.2 L552.6,412.3 L551.3,407.3 L550.0,402.3 L548.7,397.4 L547.3,392.4 L546.0,387.4 L544.7,382.5 L543.3,377.5 L542.0,372.5 L540.7,367.6 L539.4,362.6 L538.0,357.6 L536.7,352.7 L535.4,347.7 L534.0,342.7 L532.7,337.8 L531.4,332.8 L530.1,327.8 L528.7,322.9 L527.4,317.9 L526.1,312.9 L524.8,308.0 L523.4,303.0 L522.1,298.0 L520.8,293.1 L519.4,288.1 L518.1,283.1 L516.8,278.2 L515.5,273.2 L514.1,268.2 L512.8,263.3 L511.5,258.3 L510.2,253.3 L508.8,248.4 L507.5,243.4 L506.2,238.4 L504.8,233.5 L503.5,228.5 L502.2,223.5 L500.9,218.6 L499.5,213.6 L498.2,208.6 L496.9,203.7 L495.6,198.7 L494.2,193.7 L492.9,188.8 L491.6,183.8 L490.2,178.9 L488.9,173.9 L487.6,168.9 L486.3,164.0 L484.9,159.0 L483.6,154.0 L482.3,149.1 L480.9,144.1 L479.6,139.1 L478.3,134.2 L477.0,129.2 L475.6,124.2 L474.3,119.3 L473.0,114.3 L471.7,109.3 L470.3,104.4 L469.0,99.4 L467.7,94.4 L466.3,89.5 L465.0,84.5 L463.7,79.5 L462.4,74.6 L461.0,69.6 L459.7,64.6 L459.5,63.7" fill="none" stroke="#efcdfc" stroke-width="4"/><path d="M456.4,52.2L464.7,63.2L454.7,65.9Z" fill="#efcdfc" stroke="#efcdfc" stroke-width="1.4" stroke-linejoin="round"/></g>
<g><path d="M175.1,501.9 L177.3,497.2 L179.5,492.6 L181.7,488.0 L183.9,483.4 L186.1,478.8 L188.4,474.3 L190.6,469.8 L192.8,465.3 L195.1,460.9 L197.3,456.4 L199.6,452.0 L201.8,447.6 L204.1,443.3 L206.4,438.9 L208.7,434.6 L211.1,430.3 L213.4,426.0 L215.8,421.7 L218.2,417.5 L220.6,413.2 L223.0,409.0 L225.5,404.8 L228.0,400.6 L230.5,396.4 L233.1,392.3 L235.7,388.1 L238.3,384.0 L241.0,379.9 L243.7,375.8 L246.5,371.7 L249.3,367.6 L252.1,363.5 L255.0,359.5 L257.9,355.4 L260.9,351.4 L263.9,347.3 L266.9,343.3 L270.1,339.3 L273.2,335.3 L276.5,331.3 L279.7,327.3 L283.1,323.3 L286.5,319.3 L289.9,315.3 L293.5,311.3 L297.1,307.3 L300.7,303.4 L304.4,299.4 L308.2,295.4 L312.1,291.4 L316.0,287.5 L320.0,283.5 L324.1,279.5 L328.3,275.6 L332.5,271.6 L336.8,267.6 L341.2,263.7 L345.7,259.7 L350.3,255.7 L354.9,251.7 L359.7,247.7 L364.5,243.7 L369.4,239.7 L374.4,235.7 L379.5,231.7 L384.7,227.7 L390.0,223.6 L395.4,219.6 L400.9,215.6 L406.5,211.5 L412.2,207.4 L418.0,203.4 L423.9,199.3 L429.9,195.2 L436.0,191.1 L442.2,186.9 L448.6,182.8 L455.0,178.6 L461.6,174.5 L468.3,170.3 L475.1,166.1 L482.0,161.9 L489.0,157.7 L496.2,153.4 L503.5,149.2 L510.9,144.9 L518.4,140.6 L526.1,136.3 L529.0,134.6" fill="none" stroke="#c85cf8" stroke-width="4.2"/><path d="M539.9,128.7L531.1,139.5L526.0,130.3Z" fill="#c85cf8" stroke="#c85cf8" stroke-width="1.4" stroke-linejoin="round"/></g>
<g><path d="M159.2,502.1 L158.7,499.4 L158.1,496.8 L157.6,494.1 L157.0,491.4 L156.5,488.7 L155.9,486.0 L155.4,483.3 L154.8,480.6 L154.2,477.9 L153.6,475.2 L153.0,472.5 L152.4,469.8 L151.8,467.1 L151.2,464.3 L150.6,461.6 L150.0,458.9 L149.4,456.1 L148.7,453.4 L148.1,450.6 L147.5,447.9 L146.8,445.1 L146.2,442.3 L145.5,439.5 L144.8,436.8 L144.2,434.0 L143.5,431.2 L142.8,428.4 L142.1,425.6 L141.4,422.8 L140.7,420.0 L140.0,417.2 L139.3,414.3 L138.6,411.5 L137.8,408.7 L137.1,405.9 L136.4,403.0 L135.6,400.2 L134.9,397.3 L134.1,394.5 L133.4,391.6 L132.6,388.7 L131.8,385.9 L131.0,383.0 L130.2,380.1 L129.5,377.2 L128.7,374.3 L127.9,371.4 L127.0,368.5 L126.2,365.6 L125.4,362.7 L124.6,359.8 L123.8,356.9 L122.9,354.0 L122.1,351.0 L121.2,348.1 L120.4,345.2 L119.5,342.2 L118.6,339.3 L117.8,336.3 L116.9,333.4 L116.0,330.4 L115.1,327.4 L114.2,324.4 L113.3,321.5 L112.4,318.5 L111.5,315.5 L110.6,312.5 L109.6,309.5 L108.7,306.5 L107.7,303.5 L106.8,300.5 L105.9,297.4 L104.9,294.4 L103.9,291.4 L103.0,288.3 L102.0,285.3 L101.0,282.3 L100.0,279.2 L99.0,276.2 L98.1,273.3" fill="none" stroke="#cf6ef9" stroke-width="4.2"/><path d="M94.4,262.0L103.4,272.6L93.4,275.9Z" fill="#cf6ef9" stroke="#cf6ef9" stroke-width="1.4" stroke-linejoin="round"/></g>
<g><path d="M170.1,502.0 L171.4,497.0 L172.7,492.0 L174.1,487.1 L175.4,482.1 L176.7,477.1 L178.1,472.2 L179.4,467.2 L180.7,462.2 L182.0,457.3 L183.4,452.3 L184.7,447.3 L186.0,442.4 L187.4,437.4 L188.7,432.4 L190.0,427.5 L191.3,422.5 L192.7,417.5 L194.0,412.6 L195.3,407.6 L196.7,402.6 L198.0,397.7 L199.3,392.7 L200.6,387.7 L202.0,382.8 L203.3,377.8 L204.6,372.9 L205.9,367.9 L207.3,362.9 L208.6,358.0 L209.9,353.0 L211.3,348.0 L212.6,343.1 L213.9,338.1 L215.2,333.1 L216.6,328.2 L217.9,323.2 L219.2,318.2 L220.6,313.3 L221.9,308.3 L223.2,303.3 L224.5,298.4 L225.9,293.4 L227.2,288.4 L228.5,283.5 L229.9,278.5 L231.2,273.5 L232.5,268.6 L233.8,263.6 L235.2,258.6 L236.5,253.7 L237.8,248.7 L239.1,243.7 L240.5,238.8 L241.8,233.8 L243.1,228.9 L244.5,223.9 L245.8,218.9 L247.1,214.0 L248.4,209.0 L249.8,204.0 L251.1,199.1 L252.4,194.1 L253.8,189.1 L255.1,184.2 L256.4,179.2 L257.7,174.2 L259.1,169.3 L260.4,164.3 L261.7,159.3 L263.1,154.4 L264.4,149.4 L265.7,144.4 L267.0,139.5 L268.4,134.5 L269.7,129.5 L271.0,124.6 L272.3,119.6 L273.7,114.6 L275.0,109.7 L276.3,104.7 L277.7,99.7 L279.0,94.8 L280.3,89.8 L281.6,84.9 L283.0,79.9 L284.3,74.9 L285.6,70.0 L287.0,65.0 L287.1,64.4" fill="none" stroke="#d993f9" stroke-width="6"/><path d="M290.4,52.0L292.7,66.8L281.1,63.7Z" fill="#d993f9" stroke="#d993f9" stroke-width="1.4" stroke-linejoin="round"/></g>
<g><path d="M183.9,490.8 L186.8,485.8 L189.7,480.8 L192.5,475.9 L195.4,470.9 L198.3,465.9 L201.1,461.0 L204.0,456.0 L206.9,451.0 L209.7,446.1 L212.6,441.1 L215.5,436.2 L218.3,431.2 L221.2,426.2 L224.1,421.3 L226.9,416.3 L229.8,411.3 L232.7,406.4 L235.5,401.4 L238.4,396.4 L241.2,391.5 L244.1,386.5 L247.0,381.5 L249.8,376.6 L252.7,371.6 L255.6,366.6 L258.4,361.7 L261.3,356.7 L264.2,351.7 L267.0,346.8 L269.9,341.8 L272.8,336.8 L275.6,331.9 L278.5,326.9 L281.4,321.9 L284.2,317.0 L287.1,312.0 L290.0,307.0 L292.8,302.1 L295.7,297.1 L298.6,292.1 L301.4,287.2 L304.3,282.2 L307.2,277.2 L310.0,272.3 L312.9,267.3 L315.8,262.3 L318.6,257.4 L321.5,252.4 L324.3,247.4 L327.2,242.5 L330.1,237.5 L332.9,232.5 L335.8,227.6 L338.7,222.6 L341.5,217.6 L344.4,212.7 L347.3,207.7 L350.1,202.7 L353.0,197.8 L355.9,192.8 L358.7,187.9 L361.6,182.9 L364.5,177.9 L367.3,173.0 L370.2,168.0 L373.1,163.0 L375.9,158.1 L378.8,153.1 L381.7,148.1 L384.5,143.2 L387.4,138.2 L390.3,133.2 L393.1,128.3 L396.0,123.3 L398.9,118.3 L401.7,113.4 L404.6,108.4 L407.4,103.4 L410.3,98.5 L413.2,93.5 L416.0,88.5 L418.9,83.6 L421.8,78.6 L424.6,73.6 L427.5,68.7 L430.4,63.7 L430.5,63.4" fill="none" stroke="#d993f9" stroke-width="6"/><path d="M437.0,52.2L435.3,67.2L424.9,61.2Z" fill="#d993f9" stroke="#d993f9" stroke-width="1.4" stroke-linejoin="round"/><path d="M177.5,502.0L179.2,487.0L189.6,493.0Z" fill="#d993f9" stroke="#d993f9" stroke-width="1.4" stroke-linejoin="round"/></g>
<g><path d="M167.9,502.0 L168.6,497.8 L169.2,493.6 L169.9,489.3 L170.5,485.1 L171.2,480.9 L171.8,476.6 L172.4,472.4 L172.9,468.2 L173.5,464.0 L174.1,459.7 L174.6,455.5 L175.1,451.3 L175.6,447.1 L176.1,442.9 L176.6,438.6 L177.0,434.4 L177.4,430.2 L177.9,426.0 L178.3,421.8 L178.7,417.5 L179.0,413.3 L179.4,409.1 L179.7,404.9 L180.1,400.7 L180.4,396.5 L180.7,392.2 L181.0,388.0 L181.2,383.8 L181.5,379.6 L181.7,375.4 L181.9,371.2 L182.1,367.0 L182.3,362.8 L182.5,358.6 L182.6,354.4 L182.8,350.2 L182.9,346.0 L183.0,341.8 L183.1,337.6 L183.2,333.4 L183.2,329.2 L183.3,325.0 L183.3,320.8 L183.3,316.6 L183.3,312.4 L183.3,308.2 L183.2,304.0 L183.2,299.8 L183.1,295.6 L183.0,291.4 L182.9,287.2 L182.8,283.0 L182.7,278.8 L182.6,274.6 L182.4,270.4 L182.2,266.2 L182.0,262.1 L181.8,257.9 L181.6,253.7 L181.3,249.5 L181.1,245.3 L180.8,241.1 L180.5,236.9 L180.2,232.8 L179.9,228.6 L179.6,224.4 L179.2,220.2 L178.9,216.0 L178.5,211.9 L178.1,207.7 L177.7,203.5 L177.2,199.3 L176.8,195.2 L176.3,191.0 L175.8,186.8 L175.4,182.6 L174.8,178.5 L174.3,174.3 L173.8,170.1 L173.2,166.0 L172.7,161.8 L172.1,157.6 L171.5,153.4 L170.8,149.3 L170.2,145.1 L169.6,141.0 L169.6,141.0" fill="none" stroke="#dd9ef9" stroke-width="4.2"/><path d="M167.6,129.0L174.9,140.9L164.5,142.6Z" fill="#dd9ef9" stroke="#dd9ef9" stroke-width="1.4" stroke-linejoin="round"/></g>
<g><path d="M204.9,502.0 L209.9,499.1 L214.8,496.3 L219.8,493.4 L224.8,490.5 L229.7,487.7 L234.7,484.8 L239.6,481.9 L244.6,479.1 L249.6,476.2 L254.5,473.3 L259.5,470.5 L264.4,467.6 L269.4,464.7 L274.4,461.8 L279.3,459.0 L284.3,456.1 L289.2,453.2 L294.2,450.4 L299.2,447.5 L304.1,444.6 L309.1,441.8 L314.0,438.9 L319.0,436.0 L324.0,433.2 L328.9,430.3 L333.9,427.4 L338.8,424.6 L343.8,421.7 L348.8,418.8 L353.7,416.0 L358.7,413.1 L363.6,410.2 L368.6,407.3 L373.5,404.5 L378.5,401.6 L383.5,398.7 L388.4,395.9 L393.4,393.0 L398.3,390.1 L403.3,387.3 L408.3,384.4 L413.2,381.5 L418.2,378.7 L423.1,375.8 L428.1,372.9 L433.1,370.1 L438.0,367.2 L443.0,364.3 L447.9,361.4 L452.9,358.6 L457.9,355.7 L462.8,352.8 L467.8,350.0 L472.7,347.1 L477.7,344.2 L482.7,341.4 L487.6,338.5 L492.6,335.6 L497.5,332.8 L502.5,329.9 L507.5,327.0 L512.4,324.2 L517.4,321.3 L522.3,318.4 L527.3,315.6 L532.3,312.7 L537.2,309.8 L542.2,306.9 L547.1,304.1 L552.1,301.2 L557.1,298.3 L562.0,295.5 L567.0,292.6 L571.9,289.7 L576.9,286.9 L581.8,284.0 L586.8,281.1 L591.8,278.3 L596.7,275.4 L601.7,272.5 L606.6,269.7 L610.1,267.7" fill="none" stroke="#eabefb" stroke-width="4"/><path d="M620.3,261.8L611.8,272.7L606.6,263.7Z" fill="#eabefb" stroke="#eabefb" stroke-width="1.4" stroke-linejoin="round"/></g>
<g><path d="M110.5,368.7 L112.5,366.4 L114.6,364.1 L116.6,361.7 L118.7,359.3 L120.8,356.9 L122.8,354.4 L124.9,351.9 L127.0,349.4 L129.0,346.8 L131.1,344.2 L133.2,341.5 L135.2,338.8 L137.3,336.1 L139.4,333.4 L141.4,330.6 L143.5,327.7 L145.6,324.9 L147.7,322.0 L149.7,319.1 L151.8,316.1 L153.9,313.1 L156.0,310.0 L158.1,307.0 L160.1,303.9 L162.2,300.7 L164.3,297.5 L166.4,294.3 L168.5,291.1 L170.6,287.8 L172.7,284.5 L174.7,281.1 L176.8,277.7 L178.9,274.3 L181.0,270.8 L183.1,267.3 L185.2,263.8 L187.3,260.3 L189.4,256.6 L191.5,253.0 L193.6,249.3 L195.7,245.6 L197.8,241.9 L199.9,238.1 L202.0,234.3 L204.1,230.5 L206.2,226.6 L208.3,222.7 L210.4,218.7 L212.5,214.7 L214.6,210.7 L216.7,206.6 L218.9,202.5 L221.0,198.4 L223.1,194.2 L225.2,190.0 L227.3,185.8 L229.4,181.5 L231.5,177.2 L233.7,172.9 L235.8,168.5 L237.9,164.1 L240.0,159.6 L242.1,155.2 L244.3,150.6 L246.4,146.1 L248.5,141.5 L250.7,136.9 L252.8,132.2 L254.9,127.5 L257.0,122.8 L259.2,118.0 L261.3,113.2 L263.4,108.4 L265.6,103.5 L267.7,98.6 L269.8,93.7 L272.0,88.7 L274.1,83.7 L276.3,78.7 L278.4,73.6 L280.5,68.5 L282.7,63.3 L282.8,63.0" fill="none" stroke="#efcdfc" stroke-width="4"/><path d="M287.4,51.9L287.3,65.7L277.7,61.8Z" fill="#efcdfc" stroke="#efcdfc" stroke-width="1.4" stroke-linejoin="round"/></g>
<g><path d="M173.8,130.2 L175.7,135.3 L177.4,140.3 L179.0,145.2 L180.5,150.1 L181.8,154.9 L183.1,159.7 L184.2,164.4 L185.2,169.0 L186.1,173.6 L186.8,178.1 L187.5,182.6 L188.1,187.0 L188.5,191.4 L188.9,195.7 L189.1,199.9 L189.3,204.1 L189.3,208.3 L189.3,212.4 L189.2,216.4 L189.0,220.4 L188.7,224.3 L188.3,228.2 L187.8,232.0 L187.3,235.8 L186.7,239.5 L186.0,243.2 L185.2,246.8 L184.4,250.4 L183.5,253.9 L182.5,257.4 L181.4,260.8 L180.3,264.2 L179.2,267.5 L178.0,270.8 L176.7,274.0 L175.4,277.2 L174.0,280.3 L172.6,283.4 L171.2,286.5 L169.6,289.4 L168.1,292.4 L166.5,295.3 L164.9,298.2 L163.2,301.0 L161.6,303.7 L159.8,306.5 L158.1,309.1 L156.3,311.8 L154.5,314.4 L152.7,316.9 L150.9,319.4 L149.1,321.9 L147.2,324.3 L145.3,326.7 L143.5,329.0 L141.6,331.3 L139.7,333.6 L137.8,335.8 L135.9,337.9 L134.0,340.1 L132.1,342.2 L130.2,344.2 L128.4,346.3 L126.5,348.2 L124.7,350.2 L122.8,352.1 L121.0,353.9 L119.2,355.8 L117.5,357.6 L115.7,359.3 L114.0,361.0 L113.5,361.6" fill="none" stroke="#efcdfc" stroke-width="4"/><path d="M105.1,370.0L110.4,357.3L117.8,364.6Z" fill="#efcdfc" stroke="#efcdfc" stroke-width="1.4" stroke-linejoin="round"/></g>
<g><path d="M638.5,369.0 L636.0,366.1 L633.6,363.3 L631.2,360.5 L628.9,357.7 L626.6,355.0 L624.4,352.3 L622.2,349.6 L620.1,346.9 L618.0,344.2 L616.0,341.6 L614.0,339.0 L612.1,336.4 L610.2,333.8 L608.4,331.2 L606.6,328.6 L604.9,326.1 L603.2,323.6 L601.5,321.1 L599.9,318.6 L598.4,316.1 L596.9,313.6 L595.4,311.1 L594.0,308.6 L592.6,306.2 L591.3,303.7 L590.0,301.3 L588.7,298.8 L587.5,296.4 L586.3,294.0 L585.2,291.5 L584.1,289.1 L583.1,286.7 L582.1,284.2 L581.1,281.8 L580.2,279.3 L579.3,276.9 L578.5,274.5 L577.7,272.0 L576.9,269.5 L576.2,267.1 L575.5,264.6 L574.8,262.1 L574.2,259.6 L573.6,257.1 L573.1,254.6 L572.6,252.1 L572.1,249.5 L571.7,247.0 L571.3,244.4 L570.9,241.8 L570.6,239.2 L570.3,236.5 L570.1,233.9 L569.8,231.2 L569.7,228.5 L569.5,225.8 L569.4,223.1 L569.3,220.3 L569.2,217.6 L569.2,214.8 L569.2,211.9 L569.2,209.1 L569.3,206.2 L569.4,203.3 L569.5,200.3 L569.6,197.3 L569.8,194.3 L570.0,191.3 L570.3,188.2 L570.6,185.1 L570.8,181.9 L571.2,178.8 L571.5,175.5 L571.9,172.3 L572.3,169.0 L572.7,165.6 L573.2,162.3 L573.7,158.8 L574.2,155.4 L574.7,151.9 L575.3,148.3 L575.9,144.7 L576.5,141.1 L576.6,140.4" fill="none" stroke="#efcdfc" stroke-width="4"/><path d="M578.6,128.6L581.6,142.1L571.3,140.4Z" fill="#efcdfc" stroke="#efcdfc" stroke-width="1.4" stroke-linejoin="round"/></g>
<g><path d="M302.9,53.1 L303.6,56.0 L304.4,58.8 L305.2,61.7 L305.9,64.6 L306.7,67.4 L307.5,70.3 L308.2,73.2 L309.0,76.0 L309.8,78.9 L310.5,81.7 L311.3,84.6 L312.1,87.5 L312.8,90.3 L313.6,93.2 L314.4,96.1 L315.1,98.9 L315.9,101.8 L316.7,104.7 L317.4,107.5 L318.2,110.4 L319.0,113.3 L319.7,116.1 L320.5,119.0 L321.3,121.8 L322.1,124.7 L322.8,127.6 L323.6,130.4 L324.4,133.3 L325.1,136.2 L325.9,139.0 L326.7,141.9 L327.4,144.8 L328.2,147.6 L329.0,150.5 L329.7,153.3 L330.5,156.2 L331.3,159.1 L332.0,161.9 L332.8,164.8 L333.6,167.7 L334.3,170.5 L335.1,173.4 L335.9,176.3 L336.6,179.1 L337.4,182.0 L338.2,184.9 L338.9,187.7 L339.7,190.6 L340.5,193.4 L341.2,196.3 L342.0,199.2 L342.8,202.0 L343.5,204.9 L344.3,207.8 L345.1,210.6 L345.8,213.5 L346.6,216.4 L347.4,219.2 L348.1,222.1 L348.9,224.9 L349.7,227.8 L350.4,230.7 L351.2,233.5 L352.0,236.4 L352.7,239.3 L353.5,242.1 L354.3,245.0 L355.0,247.9 L355.8,250.7 L356.6,253.6 L357.3,256.5 L358.1,259.3 L358.9,262.2 L359.6,265.0 L360.4,267.9 L361.2,270.8 L361.9,273.6 L362.7,276.5 L363.5,279.4 L364.1,281.7" fill="none" stroke="#aab4f9" stroke-width="4"/><path d="M367.2,293.1L358.8,282.1L368.9,279.4Z" fill="#aab4f9" stroke="#aab4f9" stroke-width="1.4" stroke-linejoin="round"/></g>
<g><path d="M187.5,130.1 L189.6,132.2 L191.7,134.3 L193.8,136.4 L195.9,138.5 L198.0,140.6 L200.1,142.6 L202.2,144.7 L204.3,146.8 L206.4,148.9 L208.5,151.0 L210.6,153.1 L212.6,155.2 L214.7,157.3 L216.8,159.4 L218.9,161.5 L221.0,163.6 L223.1,165.7 L225.2,167.8 L227.3,169.9 L229.4,172.0 L231.5,174.1 L233.6,176.2 L235.7,178.3 L237.8,180.4 L239.9,182.5 L242.0,184.6 L244.1,186.7 L246.2,188.8 L248.3,190.9 L250.4,193.0 L252.5,195.0 L254.6,197.1 L256.7,199.2 L258.8,201.3 L260.9,203.4 L263.0,205.5 L265.1,207.6 L267.2,209.7 L269.3,211.8 L271.4,213.9 L273.5,216.0 L275.6,218.1 L277.7,220.2 L279.8,222.3 L281.8,224.4 L283.9,226.5 L286.0,228.6 L288.1,230.7 L290.2,232.8 L292.3,234.9 L294.4,237.0 L296.5,239.1 L298.6,241.2 L300.7,243.3 L302.8,245.4 L304.9,247.4 L307.0,249.5 L309.1,251.6 L311.2,253.7 L313.3,255.8 L315.4,257.9 L317.5,260.0 L319.6,262.1 L321.7,264.2 L323.8,266.3 L325.9,268.4 L328.0,270.5 L330.1,272.6 L332.2,274.7 L334.3,276.8 L336.4,278.9 L338.5,281.0 L340.6,283.1 L342.4,284.9" fill="none" stroke="#a2acf8" stroke-width="4"/><path d="M350.8,293.3L338.1,287.9L345.4,280.6Z" fill="#a2acf8" stroke="#a2acf8" stroke-width="1.4" stroke-linejoin="round"/></g>
<g><path d="M559.0,129.8 L556.9,131.9 L554.8,134.0 L552.7,136.1 L550.6,138.2 L548.5,140.3 L546.4,142.4 L544.3,144.5 L542.2,146.6 L540.1,148.7 L538.0,150.8 L535.9,152.9 L533.8,155.0 L531.7,157.1 L529.6,159.2 L527.5,161.3 L525.4,163.4 L523.3,165.5 L521.2,167.6 L519.1,169.7 L517.0,171.8 L514.9,173.9 L512.8,176.0 L510.8,178.1 L508.7,180.2 L506.6,182.3 L504.5,184.4 L502.4,186.4 L500.3,188.5 L498.2,190.6 L496.1,192.7 L494.0,194.8 L491.9,196.9 L489.8,199.0 L487.7,201.1 L485.6,203.2 L483.5,205.3 L481.4,207.4 L479.3,209.5 L477.2,211.6 L475.1,213.7 L473.0,215.8 L470.9,217.9 L468.8,220.0 L466.7,222.1 L464.6,224.2 L462.5,226.3 L460.4,228.4 L458.3,230.5 L456.2,232.6 L454.1,234.7 L452.0,236.8 L449.9,238.9 L447.8,241.0 L445.7,243.1 L443.6,245.2 L441.5,247.3 L439.4,249.4 L437.3,251.5 L435.2,253.6 L433.1,255.7 L431.0,257.8 L428.9,259.9 L426.8,262.0 L424.7,264.1 L422.6,266.2 L420.5,268.3 L418.4,270.4 L416.3,272.5 L414.2,274.6 L412.1,276.7 L410.0,278.8 L407.9,280.9 L405.9,283.0 L404.0,284.9" fill="none" stroke="#aab4f9" stroke-width="4"/><path d="M395.6,293.3L401.0,280.5L408.3,287.9Z" fill="#aab4f9" stroke="#aab4f9" stroke-width="1.4" stroke-linejoin="round"/></g>
<g><path d="M168.0,260.8 L170.8,261.6 L173.7,262.4 L176.6,263.1 L179.4,263.9 L182.3,264.7 L185.2,265.4 L188.0,266.2 L190.9,267.0 L193.7,267.7 L196.6,268.5 L199.5,269.3 L202.3,270.0 L205.2,270.8 L208.1,271.6 L210.9,272.3 L213.8,273.1 L216.7,273.9 L219.5,274.6 L222.4,275.4 L225.3,276.2 L228.1,276.9 L231.0,277.7 L233.9,278.5 L236.7,279.2 L239.6,280.0 L242.5,280.8 L245.3,281.5 L248.2,282.3 L251.1,283.0 L253.9,283.8 L256.8,284.6 L259.7,285.3 L262.5,286.1 L265.4,286.9 L268.3,287.6 L271.1,288.4 L274.0,289.2 L276.8,289.9 L279.7,290.7 L282.6,291.5 L285.4,292.2 L288.3,293.0 L291.2,293.8 L294.0,294.5 L296.9,295.3 L299.8,296.1 L302.6,296.8 L305.5,297.6 L308.4,298.4 L311.2,299.1 L311.8,299.3" fill="none" stroke="#a8b2f9" stroke-width="4"/><path d="M323.2,302.3L309.5,304.1L312.2,294.0Z" fill="#a8b2f9" stroke="#a8b2f9" stroke-width="1.4" stroke-linejoin="round"/></g>
<g><path d="M587.7,258.3 L584.8,259.0 L582.0,259.8 L579.1,260.6 L576.2,261.3 L573.4,262.1 L570.5,262.9 L567.6,263.6 L564.8,264.4 L561.9,265.2 L559.0,265.9 L556.2,266.7 L553.3,267.5 L550.4,268.2 L547.6,269.0 L544.7,269.8 L541.8,270.5 L539.0,271.3 L536.1,272.1 L533.3,272.8 L530.4,273.6 L527.5,274.4 L524.7,275.1 L521.8,275.9 L518.9,276.7 L516.1,277.4 L513.2,278.2 L510.3,279.0 L507.5,279.7 L504.6,280.5 L501.7,281.3 L498.9,282.0 L496.0,282.8 L493.2,283.6 L490.3,284.3 L487.4,285.1 L484.6,285.9 L481.7,286.6 L478.8,287.4 L476.0,288.2 L473.1,289.0 L470.2,289.7 L467.4,290.5 L464.5,291.3 L461.6,292.0 L458.8,292.8 L455.9,293.6 L453.0,294.3 L450.2,295.1 L447.3,295.9 L444.5,296.6 L441.6,297.4 L438.7,298.2 L435.9,298.9 L434.6,299.3" fill="none" stroke="#aab4f9" stroke-width="4"/><path d="M423.1,302.3L434.2,294.0L436.9,304.0Z" fill="#aab4f9" stroke="#aab4f9" stroke-width="1.4" stroke-linejoin="round"/></g>
<g><path d="M122.7,383.1 L125.6,382.3 L128.5,381.5 L131.3,380.8 L134.2,380.0 L137.1,379.2 L139.9,378.4 L142.8,377.7 L145.7,376.9 L148.5,376.1 L151.4,375.4 L154.2,374.6 L157.1,373.8 L160.0,373.1 L162.8,372.3 L165.7,371.5 L168.6,370.7 L171.4,370.0 L174.3,369.2 L177.2,368.4 L180.0,367.7 L182.9,366.9 L185.8,366.1 L188.6,365.3 L191.5,364.6 L194.3,363.8 L197.2,363.0 L200.1,362.3 L202.9,361.5 L205.8,360.7 L208.7,360.0 L211.5,359.2 L214.4,358.4 L217.3,357.6 L220.1,356.9 L223.0,356.1 L225.9,355.3 L228.7,354.6 L231.6,353.8 L234.5,353.0 L237.3,352.3 L240.2,351.5 L243.0,350.7 L245.9,349.9 L248.8,349.2 L251.6,348.4 L254.5,347.6 L257.4,346.9 L260.2,346.1 L263.1,345.3 L266.0,344.5 L268.8,343.8 L271.7,343.0 L274.6,342.2 L277.4,341.5 L280.3,340.7 L283.1,339.9 L286.0,339.2 L288.9,338.4 L291.7,337.6 L294.6,336.8 L297.5,336.1 L300.3,335.3 L303.2,334.5 L306.1,333.8 L308.9,333.0 L311.8,332.2 L311.8,332.2" fill="none" stroke="#afb8fa" stroke-width="4"/><path d="M323.3,329.1L312.2,337.5L309.5,327.4Z" fill="#afb8fa" stroke="#afb8fa" stroke-width="1.4" stroke-linejoin="round"/></g>
<g><path d="M615.6,380.8 L612.8,380.0 L609.9,379.3 L607.0,378.5 L604.2,377.7 L601.3,377.0 L598.4,376.2 L595.6,375.4 L592.7,374.7 L589.8,373.9 L587.0,373.1 L584.1,372.3 L581.2,371.6 L578.4,370.8 L575.5,370.0 L572.6,369.3 L569.8,368.5 L566.9,367.7 L564.0,367.0 L561.2,366.2 L558.3,365.4 L555.4,364.6 L552.6,363.9 L549.7,363.1 L546.8,362.3 L544.0,361.6 L541.1,360.8 L538.2,360.0 L535.4,359.3 L532.5,358.5 L529.6,357.7 L526.8,356.9 L523.9,356.2 L521.0,355.4 L518.2,354.6 L515.3,353.9 L512.4,353.1 L509.6,352.3 L506.7,351.6 L503.8,350.8 L501.0,350.0 L498.1,349.2 L495.2,348.5 L492.4,347.7 L489.5,346.9 L486.6,346.2 L483.8,345.4 L480.9,344.6 L478.0,343.9 L475.2,343.1 L472.3,342.3 L469.4,341.5 L466.6,340.8 L463.7,340.0 L460.8,339.2 L458.0,338.5 L455.1,337.7 L452.2,336.9 L449.4,336.2 L446.5,335.4 L443.6,334.6 L440.8,333.8 L437.9,333.1 L435.0,332.3 L434.7,332.2" fill="none" stroke="#afb8fa" stroke-width="4"/><path d="M423.2,329.1L436.9,327.4L434.2,337.5Z" fill="#afb8fa" stroke="#afb8fa" stroke-width="1.4" stroke-linejoin="round"/></g>
<g><path d="M187.4,502.1 L189.5,500.0 L191.6,497.9 L193.7,495.8 L195.8,493.7 L197.9,491.6 L200.0,489.5 L202.1,487.4 L204.2,485.3 L206.3,483.2 L208.3,481.1 L210.4,479.0 L212.5,476.9 L214.6,474.8 L216.7,472.7 L218.8,470.6 L220.9,468.5 L223.0,466.4 L225.1,464.2 L227.2,462.1 L229.3,460.0 L231.4,457.9 L233.5,455.8 L235.6,453.7 L237.7,451.6 L239.8,449.5 L241.9,447.4 L244.0,445.3 L246.1,443.2 L248.2,441.1 L250.2,439.0 L252.3,436.9 L254.4,434.8 L256.5,432.7 L258.6,430.6 L260.7,428.5 L262.8,426.4 L264.9,424.3 L267.0,422.2 L269.1,420.1 L271.2,418.0 L273.3,415.9 L275.4,413.8 L277.5,411.7 L279.6,409.6 L281.7,407.5 L283.8,405.4 L285.9,403.3 L288.0,401.2 L290.1,399.1 L292.1,397.0 L294.2,394.9 L296.3,392.8 L298.4,390.7 L300.5,388.6 L302.6,386.5 L304.7,384.4 L306.8,382.3 L308.9,380.2 L311.0,378.1 L313.1,376.0 L315.2,373.9 L317.3,371.8 L319.4,369.7 L321.5,367.6 L323.6,365.5 L325.7,363.4 L327.8,361.3 L329.9,359.2 L332.0,357.1 L334.0,355.0 L336.1,352.9 L338.2,350.8 L340.3,348.7 L342.4,346.6 L342.4,346.6" fill="none" stroke="#9fa9f8" stroke-width="4"/><path d="M350.8,338.2L345.5,350.9L338.1,343.6Z" fill="#9fa9f8" stroke="#9fa9f8" stroke-width="1.4" stroke-linejoin="round"/></g>
<g><path d="M559.0,501.8 L556.9,499.7 L554.8,497.6 L552.7,495.5 L550.6,493.4 L548.5,491.3 L546.4,489.2 L544.3,487.1 L542.2,485.0 L540.1,482.9 L538.0,480.8 L535.9,478.7 L533.8,476.6 L531.7,474.5 L529.6,472.4 L527.5,470.3 L525.4,468.2 L523.3,466.1 L521.2,464.0 L519.1,461.9 L517.0,459.8 L514.9,457.7 L512.8,455.6 L510.8,453.5 L508.7,451.4 L506.6,449.3 L504.5,447.2 L502.4,445.1 L500.3,443.0 L498.2,440.9 L496.1,438.8 L494.0,436.7 L491.9,434.6 L489.8,432.5 L487.7,430.4 L485.6,428.3 L483.5,426.2 L481.4,424.1 L479.3,422.0 L477.2,419.9 L475.1,417.8 L473.0,415.7 L470.9,413.6 L468.8,411.4 L466.7,409.3 L464.6,407.2 L462.5,405.1 L460.4,403.0 L458.3,400.9 L456.2,398.8 L454.1,396.7 L452.0,394.6 L449.9,392.5 L447.8,390.4 L445.7,388.3 L443.6,386.2 L441.5,384.1 L439.4,382.0 L437.3,379.9 L435.2,377.8 L433.1,375.7 L431.0,373.6 L428.9,371.5 L426.8,369.4 L424.7,367.3 L422.6,365.2 L420.5,363.1 L418.4,361.0 L416.3,358.9 L414.2,356.8 L412.1,354.7 L410.0,352.6 L407.9,350.5 L405.9,348.4 L404.0,346.6" fill="none" stroke="#aab4f9" stroke-width="4"/><path d="M395.6,338.2L408.3,343.5L401.0,350.9Z" fill="#aab4f9" stroke="#aab4f9" stroke-width="1.4" stroke-linejoin="round"/></g>
<g><path d="M302.6,578.4 L303.4,575.5 L304.2,572.7 L305.0,569.8 L305.7,566.9 L306.5,564.1 L307.3,561.2 L308.0,558.3 L308.8,555.5 L309.6,552.6 L310.3,549.7 L311.1,546.9 L311.9,544.0 L312.7,541.1 L313.4,538.3 L314.2,535.4 L315.0,532.5 L315.7,529.6 L316.5,526.8 L317.3,523.9 L318.0,521.0 L318.8,518.2 L319.6,515.3 L320.4,512.4 L321.1,509.6 L321.9,506.7 L322.7,503.8 L323.4,501.0 L324.2,498.1 L325.0,495.2 L325.7,492.4 L326.5,489.5 L327.3,486.6 L328.1,483.8 L328.8,480.9 L329.6,478.0 L330.4,475.2 L331.1,472.3 L331.9,469.4 L332.7,466.6 L333.4,463.7 L334.2,460.8 L335.0,458.0 L335.8,455.1 L336.5,452.2 L337.3,449.4 L338.1,446.5 L338.8,443.6 L339.6,440.8 L340.4,437.9 L341.1,435.0 L341.9,432.2 L342.7,429.3 L343.5,426.4 L344.2,423.6 L345.0,420.7 L345.8,417.8 L346.5,415.0 L347.3,412.1 L348.1,409.2 L348.8,406.4 L349.6,403.5 L350.4,400.6 L351.2,397.8 L351.9,394.9 L352.7,392.0 L353.5,389.2 L354.2,386.3 L355.0,383.4 L355.8,380.6 L356.5,377.7 L357.3,374.8 L358.1,372.0 L358.9,369.1 L359.6,366.2 L360.4,363.4 L361.2,360.5 L361.9,357.6 L362.7,354.8 L363.5,351.9 L364.1,349.7" fill="none" stroke="#9ba5f8" stroke-width="4"/><path d="M367.1,338.3L368.8,352.0L358.8,349.3Z" fill="#9ba5f8" stroke="#9ba5f8" stroke-width="1.4" stroke-linejoin="round"/></g>
<g><path d="M443.7,578.4 L442.9,575.6 L442.2,572.7 L441.4,569.8 L440.6,567.0 L439.9,564.1 L439.1,561.2 L438.3,558.4 L437.5,555.5 L436.8,552.6 L436.0,549.8 L435.2,546.9 L434.5,544.0 L433.7,541.2 L432.9,538.3 L432.2,535.4 L431.4,532.6 L430.6,529.7 L429.9,526.8 L429.1,524.0 L428.3,521.1 L427.5,518.2 L426.8,515.3 L426.0,512.5 L425.2,509.6 L424.5,506.7 L423.7,503.9 L422.9,501.0 L422.2,498.1 L421.4,495.3 L420.6,492.4 L419.9,489.5 L419.1,486.7 L418.3,483.8 L417.5,480.9 L416.8,478.1 L416.0,475.2 L415.2,472.3 L414.5,469.5 L413.7,466.6 L412.9,463.7 L412.2,460.9 L411.4,458.0 L410.6,455.1 L409.8,452.3 L409.1,449.4 L408.3,446.5 L407.5,443.7 L406.8,440.8 L406.0,437.9 L405.2,435.1 L404.5,432.2 L403.7,429.3 L402.9,426.5 L402.2,423.6 L401.4,420.7 L400.6,417.9 L399.8,415.0 L399.1,412.1 L398.3,409.3 L397.5,406.4 L396.8,403.5 L396.0,400.6 L395.2,397.8 L394.5,394.9 L393.7,392.0 L392.9,389.2 L392.1,386.3 L391.4,383.4 L390.6,380.6 L389.8,377.7 L389.1,374.8 L388.3,372.0 L387.5,369.1 L386.8,366.2 L386.0,363.4 L385.2,360.5 L384.5,357.6 L383.7,354.8 L382.9,351.9 L382.3,349.6" fill="none" stroke="#aab4f9" stroke-width="4"/><path d="M379.2,338.1L387.6,349.1L377.5,351.8Z" fill="#aab4f9" stroke="#aab4f9" stroke-width="1.4" stroke-linejoin="round"/></g>
<g><path d="M464.0,578.4 L466.1,574.7 L468.2,571.1 L470.3,567.5 L472.4,563.8 L474.5,560.2 L476.6,556.6 L478.7,552.9 L480.8,549.3 L482.9,545.7 L485.0,542.0 L487.1,538.4 L489.2,534.8 L491.3,531.1 L493.4,527.5 L495.5,523.9 L497.5,520.2 L499.6,516.6 L501.7,513.0 L503.8,509.3 L505.9,505.7 L508.0,502.0 L510.1,498.4 L512.2,494.8 L514.3,491.1 L516.4,487.5 L518.5,483.9 L520.6,480.2 L522.7,476.6 L524.8,473.0 L526.9,469.3 L529.0,465.7 L531.1,462.1 L533.2,458.4 L535.3,454.8 L537.4,451.2 L539.4,447.5 L541.5,443.9 L543.6,440.3 L545.7,436.6 L547.8,433.0 L549.9,429.4 L552.0,425.7 L554.1,422.1 L556.2,418.5 L558.3,414.8 L560.4,411.2 L562.5,407.5 L564.6,403.9 L566.7,400.3 L568.8,396.6 L570.9,393.0 L573.0,389.4 L575.1,385.7 L577.2,382.1 L579.3,378.5 L581.3,374.8 L583.4,371.2 L585.5,367.6 L587.6,363.9 L589.7,360.3 L591.8,356.7 L593.9,353.0 L596.0,349.4 L598.1,345.8 L600.2,342.1 L602.3,338.5 L604.4,334.9 L606.5,331.2 L608.6,327.6 L610.7,324.0 L612.8,320.3 L614.9,316.7 L617.0,313.1 L619.1,309.4 L621.2,305.8 L623.2,302.1 L625.3,298.5 L627.4,294.9 L629.5,291.2 L631.6,287.6 L633.7,284.0 L635.8,280.3 L637.9,276.7 L640.0,273.1 L640.5,272.2" fill="none" stroke="#efcdfc" stroke-width="4"/><path d="M646.6,261.7L644.7,275.4L635.7,270.2Z" fill="#efcdfc" stroke="#efcdfc" stroke-width="1.4" stroke-linejoin="round"/></g>
<g><path d="M456.6,578.2 L458.0,573.3 L459.3,568.3 L460.6,563.3 L461.9,558.4 L463.3,553.4 L464.6,548.4 L465.9,543.5 L467.3,538.5 L468.6,533.5 L469.9,528.6 L471.2,523.6 L472.6,518.6 L473.9,513.7 L475.2,508.7 L476.6,503.7 L477.9,498.8 L479.2,493.8 L480.5,488.8 L481.9,483.9 L483.2,478.9 L484.5,473.9 L485.9,469.0 L487.2,464.0 L488.5,459.0 L489.8,454.1 L491.2,449.1 L492.5,444.1 L493.8,439.2 L495.2,434.2 L496.5,429.2 L497.8,424.3 L499.1,419.3 L500.5,414.3 L501.8,409.4 L503.1,404.4 L504.5,399.4 L505.8,394.5 L507.1,389.5 L508.4,384.5 L509.8,379.6 L511.1,374.6 L512.4,369.6 L513.8,364.7 L515.1,359.7 L516.4,354.7 L517.7,349.8 L519.1,344.8 L520.4,339.8 L521.7,334.9 L523.1,329.9 L524.4,324.9 L525.7,320.0 L527.0,315.0 L528.4,310.0 L529.7,305.1 L531.0,300.1 L532.4,295.1 L533.7,290.1 L535.0,285.2 L536.3,280.2 L537.7,275.2 L539.0,270.3 L540.3,265.3 L541.7,260.3 L543.0,255.4 L544.3,250.4 L545.6,245.4 L547.0,240.5 L548.3,235.5 L549.6,230.5 L550.9,225.6 L552.3,220.6 L553.6,215.6 L554.9,210.7 L556.3,205.7 L557.6,200.7 L558.9,195.8 L560.2,190.8 L561.6,185.8 L562.9,180.9 L564.2,175.9 L565.6,170.9 L566.9,166.0 L568.2,161.0 L569.5,156.0 L570.9,151.1 L572.2,146.1 L573.5,141.1 L573.8,140.2" fill="none" stroke="#e5b0fa" stroke-width="4"/><path d="M576.9,128.7L578.6,142.4L568.5,139.7Z" fill="#e5b0fa" stroke="#e5b0fa" stroke-width="1.4" stroke-linejoin="round"/></g>
<g><path d="M450.2,578.4 L450.2,572.7 L450.2,567.0 L450.2,561.3 L450.2,555.5 L450.2,549.8 L450.2,544.1 L450.2,538.3 L450.2,532.6 L450.2,526.9 L450.2,521.1 L450.2,515.4 L450.2,509.7 L450.2,503.9 L450.2,498.2 L450.2,492.5 L450.2,486.7 L450.2,481.0 L450.2,475.3 L450.2,469.5 L450.2,463.8 L450.2,458.1 L450.2,452.3 L450.2,446.6 L450.2,440.9 L450.2,435.1 L450.2,429.4 L450.2,423.7 L450.2,418.0 L450.2,412.2 L450.2,406.5 L450.2,400.8 L450.2,395.0 L450.2,389.3 L450.2,383.6 L450.2,377.8 L450.2,372.1 L450.2,366.4 L450.2,360.6 L450.2,354.9 L450.2,349.2 L450.2,343.4 L450.2,337.7 L450.2,332.0 L450.2,326.2 L450.2,320.5 L450.2,314.8 L450.2,309.0 L450.2,303.3 L450.2,297.6 L450.2,291.8 L450.2,286.1 L450.2,280.4 L450.2,274.7 L450.2,268.9 L450.2,263.2 L450.2,257.5 L450.2,251.7 L450.2,246.0 L450.2,240.3 L450.2,234.5 L450.2,228.8 L450.2,223.1 L450.2,217.3 L450.2,211.6 L450.2,205.9 L450.2,200.1 L450.2,194.4 L450.2,188.7 L450.2,182.9 L450.2,177.2 L450.2,171.5 L450.2,165.7 L450.2,160.0 L450.2,154.3 L450.2,148.5 L450.2,142.8 L450.2,137.1 L450.2,131.4 L450.2,125.6 L450.2,119.9 L450.2,114.2 L450.2,108.4 L450.2,102.7 L450.2,97.0 L450.2,91.2 L450.2,85.5 L450.2,79.8 L450.2,74.0 L450.2,68.3 L450.2,64.0" fill="none" stroke="#e5b0fa" stroke-width="4"/><path d="M450.2,52.2L455.4,65.0L445.0,65.0Z" fill="#e5b0fa" stroke="#e5b0fa" stroke-width="1.4" stroke-linejoin="round"/></g>
<g><path d="M426.1,578.4 L422.4,574.7 L418.8,571.1 L415.2,567.5 L411.5,563.8 L407.9,560.2 L404.3,556.6 L400.6,552.9 L397.0,549.3 L393.4,545.7 L389.7,542.0 L386.1,538.4 L382.4,534.8 L378.8,531.1 L375.2,527.5 L371.5,523.9 L367.9,520.2 L364.3,516.6 L360.6,513.0 L357.0,509.3 L353.4,505.7 L349.7,502.1 L346.1,498.4 L342.5,494.8 L338.8,491.2 L335.2,487.5 L331.6,483.9 L327.9,480.3 L324.3,476.6 L320.7,473.0 L317.0,469.4 L313.4,465.7 L309.7,462.1 L306.1,458.5 L302.5,454.8 L298.8,451.2 L295.2,447.6 L291.6,443.9 L287.9,440.3 L284.3,436.7 L280.7,433.0 L277.0,429.4 L273.4,425.8 L269.8,422.1 L266.1,418.5 L262.5,414.9 L258.9,411.2 L255.2,407.6 L251.6,404.0 L248.0,400.3 L244.3,396.7 L240.7,393.1 L237.0,389.4 L233.4,385.8 L229.8,382.2 L226.1,378.5 L222.5,374.9 L218.9,371.3 L215.2,367.6 L211.6,364.0 L208.0,360.4 L204.3,356.7 L200.7,353.1 L197.1,349.5 L193.4,345.8 L189.8,342.2 L186.2,338.6 L182.5,334.9 L178.9,331.3 L175.3,327.7 L171.6,324.0 L168.0,320.4 L164.3,316.8 L160.7,313.1 L157.1,309.5 L153.4,305.9 L149.8,302.2 L146.2,298.6 L142.5,295.0 L138.9,291.3 L135.3,287.7 L131.6,284.1 L128.0,280.4 L124.4,276.8 L120.7,273.2 L117.8,270.2" fill="none" stroke="#e5b0fa" stroke-width="4"/><path d="M109.4,261.8L122.1,267.2L114.7,274.5Z" fill="#e5b0fa" stroke="#e5b0fa" stroke-width="1.4" stroke-linejoin="round"/></g>
<g><path d="M414.2,590.5 L411.4,589.6 L408.5,588.7 L405.7,587.8 L402.9,586.9 L400.1,586.0 L397.2,585.1 L394.4,584.3 L391.6,583.4 L388.7,582.5 L385.9,581.6 L383.1,580.8 L380.2,579.9 L377.4,579.0 L374.5,578.2 L371.7,577.3 L368.9,576.5 L366.0,575.6 L363.2,574.8 L360.3,573.9 L357.5,573.1 L354.6,572.3 L351.8,571.5 L348.9,570.6 L346.1,569.8 L343.2,569.0 L340.4,568.2 L337.5,567.4 L334.7,566.6 L331.8,565.8 L329.0,565.0 L326.1,564.2 L323.2,563.4 L320.4,562.6 L317.5,561.8 L314.7,561.1 L311.8,560.3 L308.9,559.5 L306.1,558.8 L303.2,558.0 L300.3,557.2 L297.5,556.5 L294.6,555.7 L291.7,555.0 L288.9,554.2 L286.0,553.5 L283.1,552.8 L280.2,552.0 L277.4,551.3 L274.5,550.6 L271.6,549.9 L268.7,549.2 L265.8,548.4 L263.0,547.7 L260.1,547.0 L257.2,546.3 L254.3,545.6 L251.4,544.9 L248.6,544.3 L245.7,543.6 L242.8,542.9 L239.9,542.2 L237.0,541.5 L234.1,540.9 L231.2,540.2 L229.8,539.9" fill="none" stroke="#e5b0fa" stroke-width="4.5"/><path d="M218.0,537.2L231.9,534.8L229.6,545.4Z" fill="#e5b0fa" stroke="#e5b0fa" stroke-width="1.4" stroke-linejoin="round"/></g>
<g><path d="M436.2,578.3 L433.3,573.3 L430.4,568.3 L427.6,563.4 L424.7,558.4 L421.8,553.4 L419.0,548.5 L416.1,543.5 L413.2,538.5 L410.4,533.6 L407.5,528.6 L404.6,523.7 L401.8,518.7 L398.9,513.7 L396.0,508.8 L393.2,503.8 L390.3,498.8 L387.4,493.9 L384.6,488.9 L381.7,483.9 L378.8,479.0 L376.0,474.0 L373.1,469.1 L370.2,464.1 L367.4,459.1 L364.5,454.2 L361.6,449.2 L358.8,444.2 L355.9,439.3 L353.0,434.3 L350.2,429.3 L347.3,424.4 L344.4,419.4 L341.6,414.5 L338.7,409.5 L335.8,404.5 L333.0,399.6 L330.1,394.6 L327.2,389.6 L324.4,384.7 L321.5,379.7 L318.6,374.7 L315.8,369.8 L312.9,364.8 L310.0,359.9 L307.2,354.9 L304.3,349.9 L301.5,345.0 L298.6,340.0 L295.7,335.0 L292.9,330.1 L290.0,325.1 L287.1,320.2 L284.3,315.2 L281.4,310.2 L278.5,305.3 L275.7,300.3 L272.8,295.3 L269.9,290.4 L267.1,285.4 L264.2,280.4 L261.3,275.5 L258.5,270.5 L255.6,265.6 L252.7,260.6 L249.9,255.6 L247.0,250.7 L244.1,245.7 L241.3,240.7 L238.4,235.8 L235.5,230.8 L232.7,225.8 L229.8,220.9 L226.9,215.9 L224.1,211.0 L221.2,206.0 L218.3,201.0 L215.5,196.1 L212.6,191.1 L209.7,186.1 L206.9,181.2 L204.0,176.2 L201.1,171.2 L198.3,166.3 L195.4,161.3 L192.5,156.4 L189.7,151.4 L186.8,146.4 L183.9,141.5 L182.8,139.6" fill="none" stroke="#d993f9" stroke-width="4.5"/><path d="M176.8,129.1L188.0,137.7L178.6,143.1Z" fill="#d993f9" stroke="#d993f9" stroke-width="1.4" stroke-linejoin="round"/></g>
<g><path d="M433.8,578.5 L430.0,572.9 L426.3,567.3 L422.6,561.8 L419.0,556.3 L415.5,550.9 L412.0,545.5 L408.6,540.2 L405.2,534.9 L401.9,529.6 L398.6,524.3 L395.4,519.1 L392.2,513.9 L389.1,508.7 L386.0,503.6 L383.0,498.5 L380.1,493.4 L377.2,488.3 L374.3,483.3 L371.5,478.2 L368.8,473.2 L366.1,468.2 L363.4,463.2 L360.8,458.3 L358.3,453.3 L355.8,448.4 L353.4,443.4 L351.0,438.5 L348.6,433.5 L346.3,428.6 L344.1,423.7 L341.9,418.8 L339.8,413.8 L337.7,408.9 L335.6,404.0 L333.6,399.1 L331.7,394.1 L329.8,389.2 L327.9,384.2 L326.1,379.2 L324.4,374.2 L322.7,369.2 L321.0,364.2 L319.4,359.2 L317.9,354.1 L316.3,349.1 L314.9,344.0 L313.4,338.8 L312.1,333.7 L310.7,328.5 L309.5,323.3 L308.2,318.1 L307.0,312.8 L305.9,307.6 L304.8,302.2 L303.7,296.9 L302.7,291.5 L301.7,286.0 L300.8,280.5 L299.9,275.0 L299.1,269.5 L298.3,263.9 L297.6,258.2 L296.9,252.5 L296.2,246.8 L295.6,241.0 L295.0,235.1 L294.5,229.2 L294.0,223.2 L293.5,217.2 L293.1,211.1 L292.7,205.0 L292.4,198.8 L292.1,192.5 L291.9,186.2 L291.7,179.8 L291.5,173.4 L291.4,166.9 L291.3,160.3 L291.3,153.6 L291.3,146.8 L291.3,140.0 L291.4,133.1 L291.5,126.2 L291.7,119.1 L291.9,112.0 L292.1,104.8 L292.4,97.5 L292.7,90.1 L293.1,82.6 L293.5,75.1 L293.9,67.4 L294.1,64.0" fill="none" stroke="#b42ef3" stroke-width="4.5"/><path d="M294.9,51.8L299.5,65.2L288.7,64.5Z" fill="#b42ef3" stroke="#b42ef3" stroke-width="1.4" stroke-linejoin="round"/></g>
<path d="M344,23.5 C352,23.5 356,26 356,29 C356,32 352,35 344,35 Z" fill="#e6b4fa"/>
<path d="M333,20 C346,19.5 357.5,22 357.5,29 C357.5,35 350,36.5 344,36.5" fill="none" stroke="#d27af8" stroke-width="3.6"/>
<path d="M331.3,38.2 L345.3,32.6 L345.3,43.4 Z" fill="#d27af8"/>
<path d="M331.3,28.8 L345.3,23.6 L345.3,33.8 Z" fill="#c650f7"/>
<path d="M542.5,20.2 C565.0,20.8 580.0,32.2 554.0,34.5" fill="none" stroke="#d993f9" stroke-width="3.6"/><path d="M541.3,37.8L553.0,29.0L555.7,39.7Z" fill="#d993f9"/>
<path d="M229.5,97.1 C252.0,97.6 267.0,109.1 241.0,111.3" fill="none" stroke="#efcdfc" stroke-width="3.6"/><path d="M228.3,114.6L240.0,105.9L242.7,116.5Z" fill="#efcdfc"/>
<path d="M731.8,230.0 C754.3,230.5 769.3,242.0 743.3,244.2" fill="none" stroke="#eabffb" stroke-width="3.6"/><path d="M730.6,247.5L742.3,238.8L745.0,249.4Z" fill="#eabffb"/>
<path d="M219.4,516.9 C241.9,517.4 256.9,528.9 230.9,531.1" fill="none" stroke="#e5b0fa" stroke-width="3.6"/><path d="M218.2,534.4L229.9,525.6L232.6,536.3Z" fill="#e5b0fa"/>
<g class="lbl">
<rect x="262.0" y="6.8" width="69.0" height="45.0" rx="15" ry="15" fill="#7f8cfa"/>
<text x="296.5" y="0" transform="translate(0,32.3) scale(1,1.09)" fill="#000" text-anchor="middle">SP3</text>
<rect x="359.5" y="6.5" width="181.5" height="45.5" rx="15" ry="15" fill="#5968f7"/>
<text x="450.2" y="0" transform="translate(0,32.2) scale(1,1.09)" fill="#fff" text-anchor="middle">ZNF711_TFAP2A_TFAP2D</text>
<rect x="99.0" y="83.4" width="129.0" height="45.4" rx="15" ry="15" fill="#8793fa"/>
<text x="163.5" y="0" transform="translate(0,109.1) scale(1,1.09)" fill="#000" text-anchor="middle">ATF2_ATF1_ATF3</text>
<rect x="516.0" y="83.0" width="134.0" height="45.5" rx="15" ry="15" fill="#4a59f6"/>
<text x="583.0" y="0" transform="translate(0,108.8) scale(1,1.09)" fill="#fff" text-anchor="middle">MXI1_MYC_MYCN</text>
<rect x="6.6" y="216.4" width="160.1" height="45.4" rx="15" ry="15" fill="#8793fa"/>
<text x="86.6" y="0" transform="translate(0,242.1) scale(1,1.09)" fill="#000" text-anchor="middle">BACH1_NFE2_NFE2L2</text>
<rect x="589.0" y="216.4" width="141.3" height="45.2" rx="15" ry="15" fill="#3a48f6"/>
<text x="659.6" y="0" transform="translate(0,242.0) scale(1,1.09)" fill="#fff" text-anchor="middle">ELF2_GABPA_ELF5</text>
<rect x="323.3" y="293.3" width="99.8" height="44.8" rx="15" ry="15" fill="#fbaaaa"/>
<text x="373.2" y="0" transform="translate(0,318.7) scale(1,1.09)" fill="#000" text-anchor="middle">MAFF_MAFG</text>
<rect x="52.0" y="370.0" width="69.5" height="45.5" rx="15" ry="15" fill="#909cfa"/>
<text x="86.8" y="0" transform="translate(0,395.8) scale(1,1.09)" fill="#000" text-anchor="middle">IKZF1</text>
<rect x="617.0" y="370.2" width="85.8" height="45.0" rx="15" ry="15" fill="#b6bdfb"/>
<text x="659.9" y="0" transform="translate(0,395.7) scale(1,1.09)" fill="#000" text-anchor="middle">AUAAAGU</text>
<rect x="109.5" y="503.3" width="108.4" height="45.1" rx="15" ry="15" fill="#7683f8"/>
<text x="163.7" y="0" transform="translate(0,528.9) scale(1,1.09)" fill="#fff" text-anchor="middle">RCOR1_MTA3</text>
<rect x="548.4" y="503.1" width="69.2" height="45.5" rx="15" ry="15" fill="#8f9afa"/>
<text x="583.0" y="0" transform="translate(0,528.9) scale(1,1.09)" fill="#000" text-anchor="middle">MECP2</text>
<rect x="240.1" y="579.6" width="112.2" height="45.6" rx="15" ry="15" fill="#5262f7"/>
<text x="296.2" y="0" transform="translate(0,605.4) scale(1,1.09)" fill="#fff" text-anchor="middle">ZBTB33_CHD2</text>
<rect x="415.5" y="579.7" width="69.3" height="45.5" rx="15" ry="15" fill="#8893fa"/>
<text x="450.1" y="0" transform="translate(0,605.5) scale(1,1.09)" fill="#000" text-anchor="middle">SP1</text>
</g>
</svg>
</body></html>
